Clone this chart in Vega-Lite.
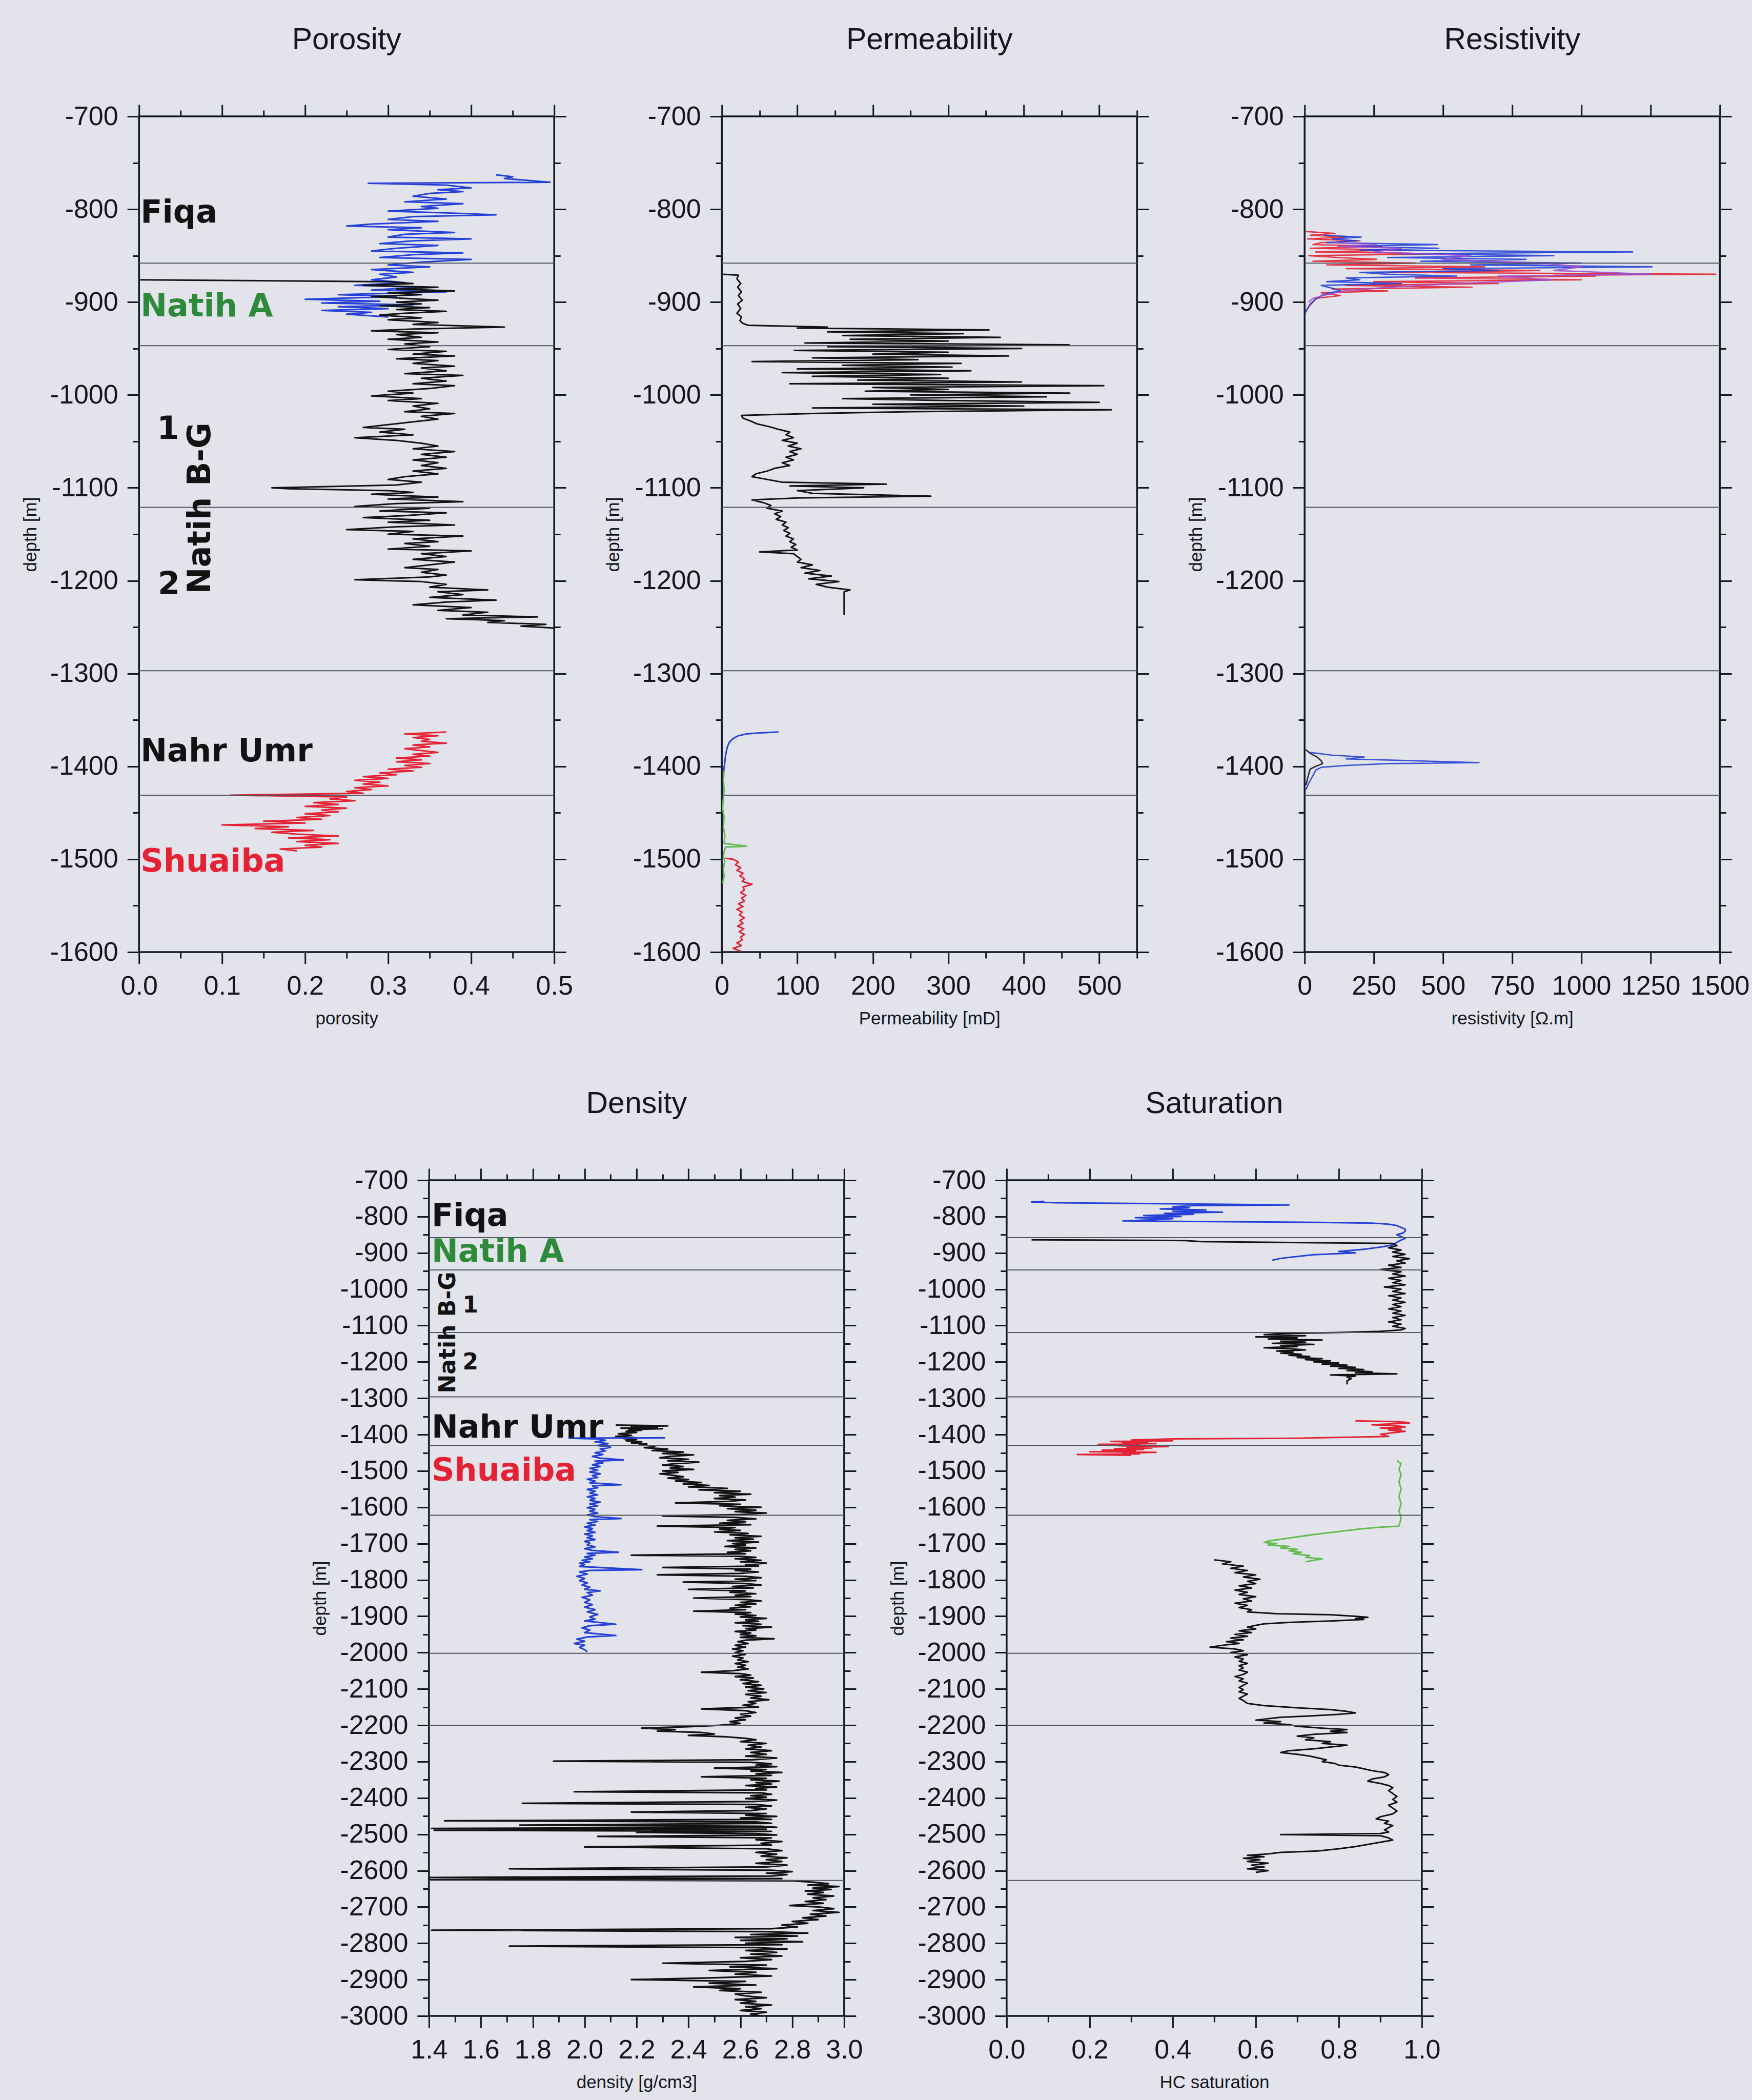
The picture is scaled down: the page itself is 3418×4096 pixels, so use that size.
{
"$schema": "https://vega.github.io/schema/vega-lite/v6.json",
"padding": {"left": 40, "top": 47, "right": 60, "bottom": 60},
"background": "#e2e3eb",
"datasets": {
"tops_top": [{"depth":-858},{"depth":-947},{"depth":-1121},{"depth":-1297},{"depth":-1431}],
"tops_bottom": [{"depth":-858},{"depth":-947},{"depth":-1119},{"depth":-1296},{"depth":-1430},{"depth":-1622},{"depth":-2002},{"depth":-2200},{"depth":-2627}],
"poro": [
{"curve":"blue","depth":-763,"value":0.43},{"curve":"blue","depth":-765,"value":0.45},{"curve":"blue","depth":-767,"value":0.44},{"curve":"blue","depth":-769,"value":0.47},{"curve":"blue","depth":-771,"value":0.495},{"curve":"blue","depth":-772,"value":0.276},{"curve":"blue","depth":-774,"value":0.37},{"curve":"blue","depth":-777,"value":0.40},{"curve":"blue","depth":-779,"value":0.36},{"curve":"blue","depth":-781,"value":0.39},{"curve":"blue","depth":-783,"value":0.35},{"curve":"blue","depth":-786,"value":0.33},{"curve":"blue","depth":-789,"value":0.37},{"curve":"blue","depth":-792,"value":0.32},{"curve":"blue","depth":-794,"value":0.39},{"curve":"blue","depth":-797,"value":0.34},{"curve":"blue","depth":-799,"value":0.36},{"curve":"blue","depth":-802,"value":0.30},{"curve":"blue","depth":-804,"value":0.37},{"curve":"blue","depth":-806,"value":0.43},{"curve":"blue","depth":-808,"value":0.33},{"curve":"blue","depth":-811,"value":0.30},{"curve":"blue","depth":-813,"value":0.36},{"curve":"blue","depth":-816,"value":0.28},{"curve":"blue","depth":-818,"value":0.25},{"curve":"blue","depth":-820,"value":0.34},{"curve":"blue","depth":-822,"value":0.30},{"curve":"blue","depth":-825,"value":0.38},{"curve":"blue","depth":-827,"value":0.32},{"curve":"blue","depth":-830,"value":0.30},{"curve":"blue","depth":-832,"value":0.40},{"curve":"blue","depth":-834,"value":0.33},{"curve":"blue","depth":-837,"value":0.29},{"curve":"blue","depth":-839,"value":0.36},{"curve":"blue","depth":-842,"value":0.31},{"curve":"blue","depth":-845,"value":0.28},{"curve":"blue","depth":-847,"value":0.39},{"curve":"blue","depth":-849,"value":0.33},{"curve":"blue","depth":-852,"value":0.29},{"curve":"blue","depth":-854,"value":0.40},{"curve":"blue","depth":-857,"value":0.34},{"curve":"blue","depth":-860,"value":0.30},{"curve":"blue","depth":-862,"value":0.35},{"curve":"blue","depth":-865,"value":0.28},{"curve":"blue","depth":-868,"value":0.33},{"curve":"blue","depth":-870,"value":0.29},{"curve":"blue","depth":-873,"value":0.31},{"curve":"blue","depth":-876,"value":0.28},{"curve":"blue","depth":-879,"value":0.32},{"curve":"blue","depth":-882,"value":0.26},{"curve":"blue","depth":-884,"value":0.34},{"curve":"blue","depth":-887,"value":0.28},{"curve":"blue","depth":-889,"value":0.37},{"curve":"blue","depth":-892,"value":0.24},{"curve":"blue","depth":-894,"value":0.31},{"curve":"blue","depth":-897,"value":0.20},{"curve":"blue","depth":-899,"value":0.29},{"curve":"blue","depth":-901,"value":0.22},{"curve":"blue","depth":-903,"value":0.33},{"curve":"blue","depth":-905,"value":0.24},{"curve":"blue","depth":-907,"value":0.30},{"curve":"blue","depth":-909,"value":0.22},{"curve":"blue","depth":-911,"value":0.28},{"curve":"blue","depth":-913,"value":0.25},{"curve":"blue","depth":-916,"value":0.30},
{"curve":"black","depth":-876,"value":0.0},{"curve":"black","depth":-878,"value":0.30},{"curve":"black","depth":-880,"value":0.33},{"curve":"black","depth":-882,"value":0.27},{"curve":"black","depth":-884,"value":0.36},{"curve":"black","depth":-886,"value":0.31},{"curve":"black","depth":-888,"value":0.38},{"curve":"black","depth":-890,"value":0.30},{"curve":"black","depth":-892,"value":0.34},{"curve":"black","depth":-894,"value":0.28},{"curve":"black","depth":-896,"value":0.32},{"curve":"black","depth":-898,"value":0.36},{"curve":"black","depth":-900,"value":0.31},{"curve":"black","depth":-902,"value":0.34},{"curve":"black","depth":-904,"value":0.29},{"curve":"black","depth":-906,"value":0.35},{"curve":"black","depth":-908,"value":0.31},{"curve":"black","depth":-910,"value":0.37},{"curve":"black","depth":-912,"value":0.32},{"curve":"black","depth":-914,"value":0.29},{"curve":"black","depth":-917,"value":0.34},{"curve":"black","depth":-919,"value":0.30},{"curve":"black","depth":-922,"value":0.36},{"curve":"black","depth":-924,"value":0.33},{"curve":"black","depth":-927,"value":0.44},{"curve":"black","depth":-929,"value":0.33},{"curve":"black","depth":-931,"value":0.28},{"curve":"black","depth":-933,"value":0.36},{"curve":"black","depth":-935,"value":0.31},{"curve":"black","depth":-938,"value":0.34},{"curve":"black","depth":-940,"value":0.30},{"curve":"black","depth":-943,"value":0.36},{"curve":"black","depth":-945,"value":0.32},{"curve":"black","depth":-948,"value":0.35},{"curve":"black","depth":-951,"value":0.30},{"curve":"black","depth":-953,"value":0.37},{"curve":"black","depth":-956,"value":0.33},{"curve":"black","depth":-958,"value":0.38},{"curve":"black","depth":-961,"value":0.31},{"curve":"black","depth":-963,"value":0.36},{"curve":"black","depth":-966,"value":0.33},{"curve":"black","depth":-969,"value":0.38},{"curve":"black","depth":-971,"value":0.34},{"curve":"black","depth":-974,"value":0.37},{"curve":"black","depth":-977,"value":0.32},{"curve":"black","depth":-979,"value":0.39},{"curve":"black","depth":-982,"value":0.34},{"curve":"black","depth":-985,"value":0.37},{"curve":"black","depth":-988,"value":0.33},{"curve":"black","depth":-990,"value":0.38},{"curve":"black","depth":-993,"value":0.35},{"curve":"black","depth":-996,"value":0.30},{"curve":"black","depth":-998,"value":0.33},{"curve":"black","depth":-1001,"value":0.28},{"curve":"black","depth":-1004,"value":0.34},{"curve":"black","depth":-1006,"value":0.30},{"curve":"black","depth":-1009,"value":0.36},{"curve":"black","depth":-1012,"value":0.33},{"curve":"black","depth":-1015,"value":0.35},{"curve":"black","depth":-1018,"value":0.32},{"curve":"black","depth":-1020,"value":0.38},{"curve":"black","depth":-1023,"value":0.34},{"curve":"black","depth":-1026,"value":0.36},{"curve":"black","depth":-1029,"value":0.33},{"curve":"black","depth":-1032,"value":0.30},{"curve":"black","depth":-1035,"value":0.27},{"curve":"black","depth":-1037,"value":0.32},{"curve":"black","depth":-1040,"value":0.29},{"curve":"black","depth":-1043,"value":0.33},{"curve":"black","depth":-1046,"value":0.26},{"curve":"black","depth":-1049,"value":0.31},{"curve":"black","depth":-1052,"value":0.34},{"curve":"black","depth":-1055,"value":0.36},{"curve":"black","depth":-1058,"value":0.33},{"curve":"black","depth":-1061,"value":0.38},{"curve":"black","depth":-1064,"value":0.34},{"curve":"black","depth":-1067,"value":0.37},{"curve":"black","depth":-1070,"value":0.33},{"curve":"black","depth":-1073,"value":0.36},{"curve":"black","depth":-1076,"value":0.34},{"curve":"black","depth":-1079,"value":0.37},{"curve":"black","depth":-1082,"value":0.33},{"curve":"black","depth":-1085,"value":0.36},{"curve":"black","depth":-1088,"value":0.32},{"curve":"black","depth":-1091,"value":0.30},{"curve":"black","depth":-1094,"value":0.34},{"curve":"black","depth":-1097,"value":0.31},{"curve":"black","depth":-1100,"value":0.16},{"curve":"black","depth":-1101,"value":0.18},{"curve":"black","depth":-1103,"value":0.30},{"curve":"black","depth":-1105,"value":0.33},{"curve":"black","depth":-1107,"value":0.28},{"curve":"black","depth":-1110,"value":0.36},{"curve":"black","depth":-1112,"value":0.30},{"curve":"black","depth":-1115,"value":0.39},{"curve":"black","depth":-1117,"value":0.31},{"curve":"black","depth":-1120,"value":0.26},{"curve":"black","depth":-1122,"value":0.35},{"curve":"black","depth":-1125,"value":0.29},{"curve":"black","depth":-1127,"value":0.37},{"curve":"black","depth":-1130,"value":0.32},{"curve":"black","depth":-1132,"value":0.27},{"curve":"black","depth":-1135,"value":0.35},{"curve":"black","depth":-1137,"value":0.30},{"curve":"black","depth":-1140,"value":0.38},{"curve":"black","depth":-1142,"value":0.31},{"curve":"black","depth":-1145,"value":0.25},{"curve":"black","depth":-1147,"value":0.33},{"curve":"black","depth":-1150,"value":0.30},{"curve":"black","depth":-1152,"value":0.39},{"curve":"black","depth":-1155,"value":0.33},{"curve":"black","depth":-1158,"value":0.36},{"curve":"black","depth":-1160,"value":0.32},{"curve":"black","depth":-1163,"value":0.35},{"curve":"black","depth":-1166,"value":0.30},{"curve":"black","depth":-1168,"value":0.40},{"curve":"black","depth":-1171,"value":0.34},{"curve":"black","depth":-1174,"value":0.37},{"curve":"black","depth":-1177,"value":0.33},{"curve":"black","depth":-1180,"value":0.38},{"curve":"black","depth":-1183,"value":0.35},{"curve":"black","depth":-1186,"value":0.32},{"curve":"black","depth":-1188,"value":0.36},{"curve":"black","depth":-1191,"value":0.34},{"curve":"black","depth":-1194,"value":0.37},{"curve":"black","depth":-1196,"value":0.35},{"curve":"black","depth":-1199,"value":0.26},{"curve":"black","depth":-1201,"value":0.34},{"curve":"black","depth":-1204,"value":0.37},{"curve":"black","depth":-1207,"value":0.35},{"curve":"black","depth":-1210,"value":0.42},{"curve":"black","depth":-1212,"value":0.36},{"curve":"black","depth":-1215,"value":0.39},{"curve":"black","depth":-1218,"value":0.35},{"curve":"black","depth":-1221,"value":0.43},{"curve":"black","depth":-1223,"value":0.37},{"curve":"black","depth":-1226,"value":0.33},{"curve":"black","depth":-1229,"value":0.40},{"curve":"black","depth":-1232,"value":0.36},{"curve":"black","depth":-1234,"value":0.42},{"curve":"black","depth":-1237,"value":0.39},{"curve":"black","depth":-1239,"value":0.48},{"curve":"black","depth":-1241,"value":0.37},{"curve":"black","depth":-1243,"value":0.44},{"curve":"black","depth":-1245,"value":0.42},{"curve":"black","depth":-1247,"value":0.49},{"curve":"black","depth":-1249,"value":0.46},{"curve":"black","depth":-1251,"value":0.50},
{"curve":"red","depth":-1363,"value":0.37},{"curve":"red","depth":-1365,"value":0.32},{"curve":"red","depth":-1367,"value":0.36},{"curve":"red","depth":-1369,"value":0.33},{"curve":"red","depth":-1371,"value":0.35},{"curve":"red","depth":-1373,"value":0.34},{"curve":"red","depth":-1375,"value":0.37},{"curve":"red","depth":-1377,"value":0.33},{"curve":"red","depth":-1379,"value":0.35},{"curve":"red","depth":-1381,"value":0.32},{"curve":"red","depth":-1383,"value":0.34},{"curve":"red","depth":-1385,"value":0.36},{"curve":"red","depth":-1387,"value":0.33},{"curve":"red","depth":-1389,"value":0.35},{"curve":"red","depth":-1391,"value":0.31},{"curve":"red","depth":-1393,"value":0.34},{"curve":"red","depth":-1395,"value":0.31},{"curve":"red","depth":-1397,"value":0.35},{"curve":"red","depth":-1399,"value":0.32},{"curve":"red","depth":-1401,"value":0.34},{"curve":"red","depth":-1403,"value":0.30},{"curve":"red","depth":-1405,"value":0.33},{"curve":"red","depth":-1407,"value":0.29},{"curve":"red","depth":-1409,"value":0.31},{"curve":"red","depth":-1411,"value":0.27},{"curve":"red","depth":-1413,"value":0.30},{"curve":"red","depth":-1415,"value":0.26},{"curve":"red","depth":-1417,"value":0.29},{"curve":"red","depth":-1419,"value":0.27},{"curve":"red","depth":-1421,"value":0.30},{"curve":"red","depth":-1423,"value":0.26},{"curve":"red","depth":-1425,"value":0.28},{"curve":"red","depth":-1427,"value":0.25},{"curve":"red","depth":-1429,"value":0.27},{"curve":"red","depth":-1431,"value":0.11},{"curve":"red","depth":-1433,"value":0.25},{"curve":"red","depth":-1435,"value":0.23},{"curve":"red","depth":-1437,"value":0.26},{"curve":"red","depth":-1439,"value":0.21},{"curve":"red","depth":-1441,"value":0.24},{"curve":"red","depth":-1443,"value":0.20},{"curve":"red","depth":-1445,"value":0.25},{"curve":"red","depth":-1447,"value":0.22},{"curve":"red","depth":-1449,"value":0.24},{"curve":"red","depth":-1451,"value":0.20},{"curve":"red","depth":-1453,"value":0.23},{"curve":"red","depth":-1455,"value":0.19},{"curve":"red","depth":-1457,"value":0.22},{"curve":"red","depth":-1459,"value":0.15},{"curve":"red","depth":-1461,"value":0.20},{"curve":"red","depth":-1463,"value":0.10},{"curve":"red","depth":-1465,"value":0.18},{"curve":"red","depth":-1467,"value":0.14},{"curve":"red","depth":-1469,"value":0.21},{"curve":"red","depth":-1471,"value":0.16},{"curve":"red","depth":-1473,"value":0.19},{"curve":"red","depth":-1475,"value":0.24},{"curve":"red","depth":-1477,"value":0.18},{"curve":"red","depth":-1479,"value":0.23},{"curve":"red","depth":-1481,"value":0.19},{"curve":"red","depth":-1483,"value":0.24},{"curve":"red","depth":-1485,"value":0.20},{"curve":"red","depth":-1487,"value":0.22},{"curve":"red","depth":-1489,"value":0.17},{"curve":"red","depth":-1491,"value":0.19}
],
"perm": [
{"curve":"black","depth":-870,"value":2},{"curve":"black","depth":-871,"value":22},{"curve":"black","depth":-875,"value":20},{"curve":"black","depth":-880,"value":25},{"curve":"black","depth":-884,"value":21},{"curve":"black","depth":-889,"value":26},{"curve":"black","depth":-893,"value":22},{"curve":"black","depth":-898,"value":27},{"curve":"black","depth":-902,"value":21},{"curve":"black","depth":-907,"value":25},{"curve":"black","depth":-912,"value":20},{"curve":"black","depth":-916,"value":26},{"curve":"black","depth":-920,"value":24},{"curve":"black","depth":-923,"value":28},{"curve":"black","depth":-925,"value":35},{"curve":"black","depth":-927,"value":140},{"curve":"black","depth":-928,"value":100},{"curve":"black","depth":-930,"value":354},{"curve":"black","depth":-932,"value":140},{"curve":"black","depth":-934,"value":320},{"curve":"black","depth":-936,"value":160},{"curve":"black","depth":-938,"value":369},{"curve":"black","depth":-940,"value":170},{"curve":"black","depth":-942,"value":300},{"curve":"black","depth":-944,"value":110},{"curve":"black","depth":-946,"value":460},{"curve":"black","depth":-948,"value":140},{"curve":"black","depth":-950,"value":397},{"curve":"black","depth":-952,"value":96},{"curve":"black","depth":-954,"value":300},{"curve":"black","depth":-956,"value":200},{"curve":"black","depth":-958,"value":380},{"curve":"black","depth":-960,"value":120},{"curve":"black","depth":-962,"value":260},{"curve":"black","depth":-964,"value":40},{"curve":"black","depth":-966,"value":317},{"curve":"black","depth":-968,"value":160},{"curve":"black","depth":-970,"value":305},{"curve":"black","depth":-972,"value":100},{"curve":"black","depth":-974,"value":330},{"curve":"black","depth":-976,"value":80},{"curve":"black","depth":-978,"value":290},{"curve":"black","depth":-980,"value":120},{"curve":"black","depth":-982,"value":300},{"curve":"black","depth":-984,"value":180},{"curve":"black","depth":-986,"value":397},{"curve":"black","depth":-988,"value":90},{"curve":"black","depth":-990,"value":506},{"curve":"black","depth":-992,"value":200},{"curve":"black","depth":-994,"value":300},{"curve":"black","depth":-996,"value":190},{"curve":"black","depth":-998,"value":461},{"curve":"black","depth":-1000,"value":250},{"curve":"black","depth":-1002,"value":430},{"curve":"black","depth":-1004,"value":160},{"curve":"black","depth":-1006,"value":300},{"curve":"black","depth":-1008,"value":500},{"curve":"black","depth":-1010,"value":200},{"curve":"black","depth":-1012,"value":400},{"curve":"black","depth":-1014,"value":120},{"curve":"black","depth":-1016,"value":516},{"curve":"black","depth":-1018,"value":250},{"curve":"black","depth":-1020,"value":120},{"curve":"black","depth":-1022,"value":26},{"curve":"black","depth":-1025,"value":28},{"curve":"black","depth":-1028,"value":38},{"curve":"black","depth":-1031,"value":46},{"curve":"black","depth":-1034,"value":62},{"curve":"black","depth":-1037,"value":75},{"curve":"black","depth":-1040,"value":90},{"curve":"black","depth":-1043,"value":85},{"curve":"black","depth":-1046,"value":95},{"curve":"black","depth":-1049,"value":80},{"curve":"black","depth":-1052,"value":100},{"curve":"black","depth":-1055,"value":88},{"curve":"black","depth":-1058,"value":105},{"curve":"black","depth":-1061,"value":90},{"curve":"black","depth":-1064,"value":100},{"curve":"black","depth":-1067,"value":85},{"curve":"black","depth":-1070,"value":95},{"curve":"black","depth":-1073,"value":80},{"curve":"black","depth":-1076,"value":90},{"curve":"black","depth":-1079,"value":70},{"curve":"black","depth":-1082,"value":60},{"curve":"black","depth":-1085,"value":45},{"curve":"black","depth":-1088,"value":40},{"curve":"black","depth":-1091,"value":60},{"curve":"black","depth":-1094,"value":80},{"curve":"black","depth":-1096,"value":218},{"curve":"black","depth":-1098,"value":90},{"curve":"black","depth":-1100,"value":188},{"curve":"black","depth":-1103,"value":100},{"curve":"black","depth":-1106,"value":120},{"curve":"black","depth":-1109,"value":277},{"curve":"black","depth":-1111,"value":100},{"curve":"black","depth":-1113,"value":40},{"curve":"black","depth":-1116,"value":55},{"curve":"black","depth":-1119,"value":65},{"curve":"black","depth":-1122,"value":60},{"curve":"black","depth":-1125,"value":80},{"curve":"black","depth":-1128,"value":70},{"curve":"black","depth":-1131,"value":78},{"curve":"black","depth":-1134,"value":72},{"curve":"black","depth":-1137,"value":85},{"curve":"black","depth":-1140,"value":80},{"curve":"black","depth":-1143,"value":88},{"curve":"black","depth":-1146,"value":82},{"curve":"black","depth":-1149,"value":90},{"curve":"black","depth":-1152,"value":85},{"curve":"black","depth":-1155,"value":95},{"curve":"black","depth":-1158,"value":90},{"curve":"black","depth":-1161,"value":98},{"curve":"black","depth":-1164,"value":92},{"curve":"black","depth":-1167,"value":100},{"curve":"black","depth":-1169,"value":50},{"curve":"black","depth":-1171,"value":95},{"curve":"black","depth":-1174,"value":100},{"curve":"black","depth":-1177,"value":105},{"curve":"black","depth":-1180,"value":100},{"curve":"black","depth":-1183,"value":120},{"curve":"black","depth":-1186,"value":105},{"curve":"black","depth":-1189,"value":130},{"curve":"black","depth":-1192,"value":110},{"curve":"black","depth":-1195,"value":145},{"curve":"black","depth":-1198,"value":115},{"curve":"black","depth":-1201,"value":155},{"curve":"black","depth":-1204,"value":125},{"curve":"black","depth":-1207,"value":140},{"curve":"black","depth":-1210,"value":170},{"curve":"black","depth":-1212,"value":162},{"curve":"black","depth":-1237,"value":162},
{"curve":"blue","depth":-1363,"value":75},{"curve":"blue","depth":-1364,"value":50},{"curve":"blue","depth":-1365,"value":33},{"curve":"blue","depth":-1367,"value":22},{"curve":"blue","depth":-1370,"value":15},{"curve":"blue","depth":-1374,"value":10},{"curve":"blue","depth":-1380,"value":7},{"curve":"blue","depth":-1388,"value":5},{"curve":"blue","depth":-1395,"value":4},{"curve":"blue","depth":-1402,"value":3},{"curve":"blue","depth":-1408,"value":2},
{"curve":"green","depth":-1405,"value":3},{"curve":"green","depth":-1415,"value":2},{"curve":"green","depth":-1425,"value":3},{"curve":"green","depth":-1435,"value":2},{"curve":"green","depth":-1445,"value":1},{"curve":"green","depth":-1455,"value":3},{"curve":"green","depth":-1465,"value":2},{"curve":"green","depth":-1475,"value":4},{"curve":"green","depth":-1483,"value":3},{"curve":"green","depth":-1486,"value":33},{"curve":"green","depth":-1487,"value":5},{"curve":"green","depth":-1492,"value":3},{"curve":"green","depth":-1497,"value":2},{"curve":"green","depth":-1502,"value":4},{"curve":"green","depth":-1510,"value":2},{"curve":"green","depth":-1518,"value":3},{"curve":"green","depth":-1526,"value":1},
{"curve":"red","depth":-1499,"value":5},{"curve":"red","depth":-1500,"value":15},{"curve":"red","depth":-1503,"value":22},{"curve":"red","depth":-1506,"value":18},{"curve":"red","depth":-1509,"value":25},{"curve":"red","depth":-1512,"value":20},{"curve":"red","depth":-1515,"value":28},{"curve":"red","depth":-1518,"value":24},{"curve":"red","depth":-1521,"value":30},{"curve":"red","depth":-1524,"value":27},{"curve":"red","depth":-1527,"value":40},{"curve":"red","depth":-1530,"value":28},{"curve":"red","depth":-1533,"value":30},{"curve":"red","depth":-1536,"value":25},{"curve":"red","depth":-1539,"value":32},{"curve":"red","depth":-1542,"value":26},{"curve":"red","depth":-1545,"value":30},{"curve":"red","depth":-1548,"value":22},{"curve":"red","depth":-1551,"value":28},{"curve":"red","depth":-1554,"value":20},{"curve":"red","depth":-1557,"value":27},{"curve":"red","depth":-1560,"value":23},{"curve":"red","depth":-1563,"value":30},{"curve":"red","depth":-1566,"value":24},{"curve":"red","depth":-1569,"value":28},{"curve":"red","depth":-1572,"value":21},{"curve":"red","depth":-1575,"value":29},{"curve":"red","depth":-1578,"value":23},{"curve":"red","depth":-1581,"value":30},{"curve":"red","depth":-1584,"value":25},{"curve":"red","depth":-1587,"value":27},{"curve":"red","depth":-1590,"value":20},{"curve":"red","depth":-1593,"value":26},{"curve":"red","depth":-1596,"value":15},{"curve":"red","depth":-1599,"value":25}
],
"resist": [
{"curve":"red","depth":-824,"value":5},{"curve":"red","depth":-826,"value":110},{"curve":"red","depth":-828,"value":20},{"curve":"red","depth":-830,"value":150},{"curve":"red","depth":-832,"value":10},{"curve":"red","depth":-834,"value":200},{"curve":"red","depth":-836,"value":60},{"curve":"red","depth":-838,"value":30},{"curve":"red","depth":-840,"value":280},{"curve":"red","depth":-842,"value":20},{"curve":"red","depth":-844,"value":350},{"curve":"red","depth":-846,"value":40},{"curve":"red","depth":-848,"value":500},{"curve":"red","depth":-850,"value":15},{"curve":"red","depth":-852,"value":120},{"curve":"red","depth":-854,"value":260},{"curve":"red","depth":-856,"value":30},{"curve":"red","depth":-858,"value":400},{"curve":"red","depth":-860,"value":80},{"curve":"red","depth":-862,"value":650},{"curve":"red","depth":-864,"value":150},{"curve":"red","depth":-866,"value":850},{"curve":"red","depth":-868,"value":300},{"curve":"red","depth":-870,"value":1485},{"curve":"red","depth":-871,"value":900},{"curve":"red","depth":-872,"value":1050},{"curve":"red","depth":-874,"value":400},{"curve":"red","depth":-876,"value":1000},{"curve":"red","depth":-878,"value":250},{"curve":"red","depth":-880,"value":700},{"curve":"red","depth":-882,"value":150},{"curve":"red","depth":-884,"value":605},{"curve":"red","depth":-886,"value":100},{"curve":"red","depth":-888,"value":300},{"curve":"red","depth":-890,"value":60},{"curve":"red","depth":-893,"value":130},{"curve":"red","depth":-896,"value":40},{"curve":"red","depth":-900,"value":30},{"curve":"red","depth":-905,"value":15},{"curve":"red","depth":-910,"value":5},
{"curve":"blue","depth":-828,"value":70},{"curve":"blue","depth":-830,"value":205},{"curve":"blue","depth":-832,"value":100},{"curve":"blue","depth":-834,"value":190},{"curve":"blue","depth":-836,"value":80},{"curve":"blue","depth":-838,"value":480},{"curve":"blue","depth":-840,"value":150},{"curve":"blue","depth":-842,"value":485},{"curve":"blue","depth":-844,"value":200},{"curve":"blue","depth":-846,"value":1185},{"curve":"blue","depth":-848,"value":350},{"curve":"blue","depth":-850,"value":900},{"curve":"blue","depth":-852,"value":300},{"curve":"blue","depth":-854,"value":800},{"curve":"blue","depth":-856,"value":420},{"curve":"blue","depth":-858,"value":1000},{"curve":"blue","depth":-860,"value":600},{"curve":"blue","depth":-862,"value":1255},{"curve":"blue","depth":-864,"value":500},{"curve":"blue","depth":-866,"value":700},{"curve":"blue","depth":-868,"value":200},{"curve":"blue","depth":-870,"value":300},{"curve":"blue","depth":-872,"value":550},{"curve":"blue","depth":-874,"value":150},{"curve":"blue","depth":-876,"value":200},{"curve":"blue","depth":-878,"value":80},{"curve":"blue","depth":-880,"value":350},{"curve":"blue","depth":-882,"value":60},{"curve":"blue","depth":-886,"value":110},{"curve":"blue","depth":-888,"value":130},{"curve":"blue","depth":-890,"value":90},{"curve":"blue","depth":-893,"value":60},{"curve":"blue","depth":-897,"value":40},{"curve":"blue","depth":-902,"value":20},{"curve":"blue","depth":-908,"value":8},{"curve":"blue","depth":-912,"value":2},
{"curve":"purple","depth":-836,"value":100},{"curve":"purple","depth":-838,"value":260},{"curve":"purple","depth":-840,"value":120},{"curve":"purple","depth":-842,"value":350},{"curve":"purple","depth":-846,"value":250},{"curve":"purple","depth":-850,"value":600},{"curve":"purple","depth":-854,"value":500},{"curve":"purple","depth":-858,"value":850},{"curve":"purple","depth":-862,"value":1000},{"curve":"purple","depth":-866,"value":900},{"curve":"purple","depth":-870,"value":1250},{"curve":"purple","depth":-872,"value":700},{"curve":"purple","depth":-876,"value":900},{"curve":"purple","depth":-880,"value":550},{"curve":"purple","depth":-884,"value":300},{"curve":"purple","depth":-888,"value":140},{"curve":"purple","depth":-892,"value":80},{"curve":"purple","depth":-896,"value":30},{"curve":"purple","depth":-900,"value":15},
{"curve":"black2","depth":-1382,"value":5},{"curve":"black2","depth":-1386,"value":20},{"curve":"black2","depth":-1390,"value":45},{"curve":"black2","depth":-1394,"value":60},{"curve":"black2","depth":-1397,"value":65},{"curve":"black2","depth":-1400,"value":40},{"curve":"black2","depth":-1403,"value":20},{"curve":"black2","depth":-1408,"value":15},{"curve":"black2","depth":-1414,"value":10},{"curve":"black2","depth":-1420,"value":5},
{"curve":"blue2","depth":-1385,"value":20},{"curve":"blue2","depth":-1388,"value":100},{"curve":"blue2","depth":-1390,"value":215},{"curve":"blue2","depth":-1392,"value":150},{"curve":"blue2","depth":-1394,"value":400},{"curve":"blue2","depth":-1396,"value":630},{"curve":"blue2","depth":-1397,"value":300},{"curve":"blue2","depth":-1399,"value":150},{"curve":"blue2","depth":-1401,"value":60},{"curve":"blue2","depth":-1404,"value":40},{"curve":"blue2","depth":-1410,"value":30},{"curve":"blue2","depth":-1418,"value":15},{"curve":"blue2","depth":-1425,"value":5}
],
"dens": [
{"curve":"black","depth":-1374,"value":2.12},{"curve":"black","depth":-1376,"value":2.32},{"curve":"black","depth":-1378,"value":2.18},{"curve":"black","depth":-1380,"value":2.28},{"curve":"black","depth":-1382,"value":2.14},{"curve":"black","depth":-1384,"value":2.30},{"curve":"black","depth":-1386,"value":2.17},{"curve":"black","depth":-1388,"value":2.22},{"curve":"black","depth":-1391,"value":2.16},{"curve":"black","depth":-1394,"value":2.20},{"curve":"black","depth":-1398,"value":2.13},{"curve":"black","depth":-1402,"value":2.18},{"curve":"black","depth":-1405,"value":2.12},{"curve":"black","depth":-1408,"value":2.19},{"curve":"black","depth":-1411,"value":2.15},{"curve":"black","depth":-1414,"value":2.20},{"curve":"black","depth":-1417,"value":2.16},{"curve":"black","depth":-1420,"value":2.22},{"curve":"black","depth":-1423,"value":2.18},{"curve":"black","depth":-1426,"value":2.24},{"curve":"black","depth":-1429,"value":2.21},{"curve":"black","depth":-1432,"value":2.27},{"curve":"black","depth":-1436,"value":2.23},{"curve":"black","depth":-1440,"value":2.32},{"curve":"black","depth":-1444,"value":2.26},{"curve":"black","depth":-1448,"value":2.38},{"curve":"black","depth":-1452,"value":2.30},{"curve":"black","depth":-1456,"value":2.42},{"curve":"black","depth":-1460,"value":2.33},{"curve":"black","depth":-1464,"value":2.29},{"curve":"black","depth":-1468,"value":2.40},{"curve":"black","depth":-1472,"value":2.32},{"curve":"black","depth":-1476,"value":2.44},{"curve":"black","depth":-1480,"value":2.35},{"curve":"black","depth":-1484,"value":2.30},{"curve":"black","depth":-1488,"value":2.38},{"curve":"black","depth":-1492,"value":2.33},{"curve":"black","depth":-1496,"value":2.42},{"curve":"black","depth":-1500,"value":2.30},{"curve":"black","depth":-1504,"value":2.36},{"curve":"black","depth":-1508,"value":2.29},{"curve":"black","depth":-1512,"value":2.34},{"curve":"black","depth":-1516,"value":2.38},{"curve":"black","depth":-1520,"value":2.32},{"curve":"black","depth":-1524,"value":2.40},{"curve":"black","depth":-1528,"value":2.35},{"curve":"black","depth":-1532,"value":2.45},{"curve":"black","depth":-1536,"value":2.38},{"curve":"black","depth":-1540,"value":2.48},{"curve":"black","depth":-1544,"value":2.40},{"curve":"black","depth":-1548,"value":2.55},{"curve":"black","depth":-1552,"value":2.44},{"curve":"black","depth":-1556,"value":2.60},{"curve":"black","depth":-1560,"value":2.50},{"curve":"black","depth":-1564,"value":2.64},{"curve":"black","depth":-1568,"value":2.52},{"curve":"black","depth":-1572,"value":2.58},{"curve":"black","depth":-1576,"value":2.50},{"curve":"black","depth":-1580,"value":2.62},{"curve":"black","depth":-1584,"value":2.55},{"curve":"black","depth":-1588,"value":2.35},{"curve":"black","depth":-1592,"value":2.60},{"curve":"black","depth":-1596,"value":2.52},{"curve":"black","depth":-1600,"value":2.68},{"curve":"black","depth":-1604,"value":2.55},{"curve":"black","depth":-1608,"value":2.66},{"curve":"black","depth":-1612,"value":2.58},{"curve":"black","depth":-1616,"value":2.70},{"curve":"black","depth":-1620,"value":2.60},{"curve":"black","depth":-1624,"value":2.30},{"curve":"black","depth":-1628,"value":2.58},{"curve":"black","depth":-1632,"value":2.66},{"curve":"black","depth":-1636,"value":2.55},{"curve":"black","depth":-1640,"value":2.62},{"curve":"black","depth":-1644,"value":2.52},{"curve":"black","depth":-1648,"value":2.64},{"curve":"black","depth":-1652,"value":2.28},{"curve":"black","depth":-1656,"value":2.58},{"curve":"black","depth":-1660,"value":2.52},{"curve":"black","depth":-1664,"value":2.60},{"curve":"black","depth":-1668,"value":2.50},{"curve":"black","depth":-1672,"value":2.63},{"curve":"black","depth":-1676,"value":2.56},{"curve":"black","depth":-1680,"value":2.68},{"curve":"black","depth":-1684,"value":2.58},{"curve":"black","depth":-1688,"value":2.65},{"curve":"black","depth":-1692,"value":2.55},{"curve":"black","depth":-1696,"value":2.67},{"curve":"black","depth":-1700,"value":2.57},{"curve":"black","depth":-1704,"value":2.62},{"curve":"black","depth":-1708,"value":2.54},{"curve":"black","depth":-1712,"value":2.66},{"curve":"black","depth":-1716,"value":2.58},{"curve":"black","depth":-1720,"value":2.64},{"curve":"black","depth":-1724,"value":2.55},{"curve":"black","depth":-1728,"value":2.62},{"curve":"black","depth":-1732,"value":2.18},{"curve":"black","depth":-1735,"value":2.60},{"curve":"black","depth":-1738,"value":2.66},{"curve":"black","depth":-1742,"value":2.58},{"curve":"black","depth":-1746,"value":2.68},{"curve":"black","depth":-1750,"value":2.60},{"curve":"black","depth":-1754,"value":2.70},{"curve":"black","depth":-1758,"value":2.62},{"curve":"black","depth":-1762,"value":2.67},{"curve":"black","depth":-1766,"value":2.30},{"curve":"black","depth":-1770,"value":2.64},{"curve":"black","depth":-1774,"value":2.58},{"curve":"black","depth":-1778,"value":2.67},{"curve":"black","depth":-1782,"value":2.60},{"curve":"black","depth":-1786,"value":2.28},{"curve":"black","depth":-1790,"value":2.62},{"curve":"black","depth":-1794,"value":2.68},{"curve":"black","depth":-1798,"value":2.58},{"curve":"black","depth":-1802,"value":2.66},{"curve":"black","depth":-1806,"value":2.38},{"curve":"black","depth":-1810,"value":2.62},{"curve":"black","depth":-1814,"value":2.68},{"curve":"black","depth":-1818,"value":2.57},{"curve":"black","depth":-1822,"value":2.65},{"curve":"black","depth":-1826,"value":2.40},{"curve":"black","depth":-1830,"value":2.62},{"curve":"black","depth":-1834,"value":2.56},{"curve":"black","depth":-1838,"value":2.66},{"curve":"black","depth":-1842,"value":2.58},{"curve":"black","depth":-1846,"value":2.64},{"curve":"black","depth":-1850,"value":2.42},{"curve":"black","depth":-1854,"value":2.62},{"curve":"black","depth":-1858,"value":2.68},{"curve":"black","depth":-1862,"value":2.60},{"curve":"black","depth":-1866,"value":2.66},{"curve":"black","depth":-1870,"value":2.58},{"curve":"black","depth":-1874,"value":2.64},{"curve":"black","depth":-1878,"value":2.56},{"curve":"black","depth":-1882,"value":2.62},{"curve":"black","depth":-1886,"value":2.42},{"curve":"black","depth":-1890,"value":2.64},{"curve":"black","depth":-1894,"value":2.58},{"curve":"black","depth":-1898,"value":2.66},{"curve":"black","depth":-1902,"value":2.60},{"curve":"black","depth":-1906,"value":2.70},{"curve":"black","depth":-1910,"value":2.62},{"curve":"black","depth":-1914,"value":2.67},{"curve":"black","depth":-1918,"value":2.58},{"curve":"black","depth":-1922,"value":2.68},{"curve":"black","depth":-1926,"value":2.61},{"curve":"black","depth":-1930,"value":2.72},{"curve":"black","depth":-1934,"value":2.62},{"curve":"black","depth":-1938,"value":2.66},{"curve":"black","depth":-1942,"value":2.58},{"curve":"black","depth":-1946,"value":2.64},{"curve":"black","depth":-1950,"value":2.60},{"curve":"black","depth":-1954,"value":2.66},{"curve":"black","depth":-1958,"value":2.60},{"curve":"black","depth":-1962,"value":2.73},{"curve":"black","depth":-1966,"value":2.62},{"curve":"black","depth":-1970,"value":2.59},{"curve":"black","depth":-1975,"value":2.63},{"curve":"black","depth":-1980,"value":2.58},{"curve":"black","depth":-1985,"value":2.62},{"curve":"black","depth":-1990,"value":2.57},{"curve":"black","depth":-1995,"value":2.61},{"curve":"black","depth":-2000,"value":2.58},{"curve":"black","depth":-2005,"value":2.62},{"curve":"black","depth":-2010,"value":2.57},{"curve":"black","depth":-2015,"value":2.61},{"curve":"black","depth":-2020,"value":2.59},{"curve":"black","depth":-2025,"value":2.63},{"curve":"black","depth":-2030,"value":2.58},{"curve":"black","depth":-2035,"value":2.62},{"curve":"black","depth":-2040,"value":2.59},{"curve":"black","depth":-2045,"value":2.63},{"curve":"black","depth":-2050,"value":2.57},{"curve":"black","depth":-2054,"value":2.45},{"curve":"black","depth":-2058,"value":2.60},{"curve":"black","depth":-2062,"value":2.64},{"curve":"black","depth":-2066,"value":2.58},{"curve":"black","depth":-2070,"value":2.65},{"curve":"black","depth":-2075,"value":2.60},{"curve":"black","depth":-2080,"value":2.67},{"curve":"black","depth":-2085,"value":2.61},{"curve":"black","depth":-2090,"value":2.68},{"curve":"black","depth":-2095,"value":2.62},{"curve":"black","depth":-2100,"value":2.69},{"curve":"black","depth":-2105,"value":2.63},{"curve":"black","depth":-2110,"value":2.70},{"curve":"black","depth":-2115,"value":2.62},{"curve":"black","depth":-2120,"value":2.68},{"curve":"black","depth":-2125,"value":2.64},{"curve":"black","depth":-2130,"value":2.71},{"curve":"black","depth":-2135,"value":2.63},{"curve":"black","depth":-2140,"value":2.66},{"curve":"black","depth":-2145,"value":2.61},{"curve":"black","depth":-2150,"value":2.67},{"curve":"black","depth":-2155,"value":2.45},{"curve":"black","depth":-2160,"value":2.62},{"curve":"black","depth":-2165,"value":2.66},{"curve":"black","depth":-2170,"value":2.60},{"curve":"black","depth":-2175,"value":2.64},{"curve":"black","depth":-2180,"value":2.58},{"curve":"black","depth":-2185,"value":2.62},{"curve":"black","depth":-2190,"value":2.56},{"curve":"black","depth":-2195,"value":2.60},{"curve":"black","depth":-2200,"value":2.52},{"curve":"black","depth":-2204,"value":2.40},{"curve":"black","depth":-2208,"value":2.22},{"curve":"black","depth":-2212,"value":2.35},{"curve":"black","depth":-2216,"value":2.28},{"curve":"black","depth":-2220,"value":2.45},{"curve":"black","depth":-2224,"value":2.50},{"curve":"black","depth":-2228,"value":2.40},{"curve":"black","depth":-2232,"value":2.55},{"curve":"black","depth":-2236,"value":2.62},{"curve":"black","depth":-2240,"value":2.66},{"curve":"black","depth":-2245,"value":2.60},{"curve":"black","depth":-2250,"value":2.70},{"curve":"black","depth":-2255,"value":2.63},{"curve":"black","depth":-2260,"value":2.68},{"curve":"black","depth":-2265,"value":2.62},{"curve":"black","depth":-2270,"value":2.72},{"curve":"black","depth":-2275,"value":2.64},{"curve":"black","depth":-2280,"value":2.70},{"curve":"black","depth":-2285,"value":2.62},{"curve":"black","depth":-2290,"value":2.74},{"curve":"black","depth":-2295,"value":2.65},{"curve":"black","depth":-2299,"value":1.88},{"curve":"black","depth":-2302,"value":2.64},{"curve":"black","depth":-2306,"value":2.72},{"curve":"black","depth":-2310,"value":2.66},{"curve":"black","depth":-2314,"value":2.74},{"curve":"black","depth":-2318,"value":2.50},{"curve":"black","depth":-2322,"value":2.70},{"curve":"black","depth":-2326,"value":2.64},{"curve":"black","depth":-2330,"value":2.76},{"curve":"black","depth":-2334,"value":2.66},{"curve":"black","depth":-2338,"value":2.72},{"curve":"black","depth":-2342,"value":2.45},{"curve":"black","depth":-2346,"value":2.70},{"curve":"black","depth":-2350,"value":2.64},{"curve":"black","depth":-2354,"value":2.75},{"curve":"black","depth":-2358,"value":2.66},{"curve":"black","depth":-2362,"value":2.72},{"curve":"black","depth":-2366,"value":2.62},{"curve":"black","depth":-2370,"value":2.74},{"curve":"black","depth":-2374,"value":2.66},{"curve":"black","depth":-2378,"value":2.70},{"curve":"black","depth":-2383,"value":1.96},{"curve":"black","depth":-2386,"value":2.68},{"curve":"black","depth":-2390,"value":2.72},{"curve":"black","depth":-2394,"value":2.64},{"curve":"black","depth":-2398,"value":2.70},{"curve":"black","depth":-2402,"value":2.62},{"curve":"black","depth":-2406,"value":2.74},{"curve":"black","depth":-2410,"value":2.65},{"curve":"black","depth":-2415,"value":1.76},{"curve":"black","depth":-2418,"value":2.66},{"curve":"black","depth":-2422,"value":2.72},{"curve":"black","depth":-2426,"value":2.62},{"curve":"black","depth":-2430,"value":2.70},{"curve":"black","depth":-2435,"value":2.64},{"curve":"black","depth":-2439,"value":2.18},{"curve":"black","depth":-2443,"value":2.70},{"curve":"black","depth":-2447,"value":2.62},{"curve":"black","depth":-2451,"value":2.74},{"curve":"black","depth":-2455,"value":2.60},{"curve":"black","depth":-2459,"value":2.72},{"curve":"black","depth":-2463,"value":1.46},{"curve":"black","depth":-2466,"value":2.66},{"curve":"black","depth":-2470,"value":2.72},{"curve":"black","depth":-2475,"value":1.75},{"curve":"black","depth":-2478,"value":2.68},{"curve":"black","depth":-2481,"value":2.74},{"curve":"black","depth":-2484,"value":1.41},{"curve":"black","depth":-2486,"value":2.70},{"curve":"black","depth":-2489,"value":1.42},{"curve":"black","depth":-2492,"value":2.72},{"curve":"black","depth":-2495,"value":2.20},{"curve":"black","depth":-2498,"value":2.66},{"curve":"black","depth":-2502,"value":2.74},{"curve":"black","depth":-2506,"value":2.05},{"curve":"black","depth":-2510,"value":2.72},{"curve":"black","depth":-2515,"value":2.66},{"curve":"black","depth":-2520,"value":2.76},{"curve":"black","depth":-2525,"value":2.68},{"curve":"black","depth":-2530,"value":2.72},{"curve":"black","depth":-2535,"value":2.00},{"curve":"black","depth":-2540,"value":2.70},{"curve":"black","depth":-2545,"value":2.76},{"curve":"black","depth":-2550,"value":2.66},{"curve":"black","depth":-2555,"value":2.74},{"curve":"black","depth":-2560,"value":2.68},{"curve":"black","depth":-2565,"value":2.78},{"curve":"black","depth":-2570,"value":2.70},{"curve":"black","depth":-2575,"value":2.76},{"curve":"black","depth":-2580,"value":2.66},{"curve":"black","depth":-2585,"value":2.78},{"curve":"black","depth":-2590,"value":2.70},{"curve":"black","depth":-2595,"value":1.71},{"curve":"black","depth":-2599,"value":2.72},{"curve":"black","depth":-2603,"value":2.80},{"curve":"black","depth":-2607,"value":2.70},{"curve":"black","depth":-2611,"value":2.78},{"curve":"black","depth":-2615,"value":2.72},{"curve":"black","depth":-2619,"value":1.40},{"curve":"black","depth":-2622,"value":2.76},{"curve":"black","depth":-2625,"value":1.40},{"curve":"black","depth":-2628,"value":2.80},{"curve":"black","depth":-2632,"value":2.88},{"curve":"black","depth":-2636,"value":2.94},{"curve":"black","depth":-2640,"value":2.86},{"curve":"black","depth":-2644,"value":2.98},{"curve":"black","depth":-2648,"value":2.88},{"curve":"black","depth":-2652,"value":2.95},{"curve":"black","depth":-2656,"value":2.85},{"curve":"black","depth":-2660,"value":2.92},{"curve":"black","depth":-2665,"value":2.86},{"curve":"black","depth":-2670,"value":2.96},{"curve":"black","depth":-2675,"value":2.88},{"curve":"black","depth":-2680,"value":2.93},{"curve":"black","depth":-2685,"value":2.85},{"curve":"black","depth":-2690,"value":2.92},{"curve":"black","depth":-2696,"value":2.79},{"curve":"black","depth":-2700,"value":2.90},{"curve":"black","depth":-2705,"value":2.96},{"curve":"black","depth":-2710,"value":2.88},{"curve":"black","depth":-2715,"value":2.98},{"curve":"black","depth":-2720,"value":2.87},{"curve":"black","depth":-2725,"value":2.93},{"curve":"black","depth":-2730,"value":2.84},{"curve":"black","depth":-2735,"value":2.90},{"curve":"black","depth":-2740,"value":2.80},{"curve":"black","depth":-2745,"value":2.86},{"curve":"black","depth":-2750,"value":2.76},{"curve":"black","depth":-2755,"value":2.82},{"curve":"black","depth":-2760,"value":2.72},{"curve":"black","depth":-2764,"value":1.41},{"curve":"black","depth":-2768,"value":2.70},{"curve":"black","depth":-2772,"value":2.86},{"curve":"black","depth":-2776,"value":2.64},{"curve":"black","depth":-2780,"value":2.82},{"curve":"black","depth":-2784,"value":2.58},{"curve":"black","depth":-2788,"value":2.78},{"curve":"black","depth":-2792,"value":2.60},{"curve":"black","depth":-2796,"value":2.84},{"curve":"black","depth":-2800,"value":2.62},{"curve":"black","depth":-2804,"value":2.76},{"curve":"black","depth":-2808,"value":1.71},{"curve":"black","depth":-2812,"value":2.66},{"curve":"black","depth":-2816,"value":2.78},{"curve":"black","depth":-2820,"value":2.62},{"curve":"black","depth":-2825,"value":2.74},{"curve":"black","depth":-2830,"value":2.64},{"curve":"black","depth":-2835,"value":2.76},{"curve":"black","depth":-2840,"value":2.60},{"curve":"black","depth":-2845,"value":2.72},{"curve":"black","depth":-2850,"value":2.62},{"curve":"black","depth":-2855,"value":2.30},{"curve":"black","depth":-2860,"value":2.70},{"curve":"black","depth":-2865,"value":2.56},{"curve":"black","depth":-2870,"value":2.74},{"curve":"black","depth":-2875,"value":2.48},{"curve":"black","depth":-2880,"value":2.66},{"curve":"black","depth":-2885,"value":2.58},{"curve":"black","depth":-2890,"value":2.72},{"curve":"black","depth":-2895,"value":2.50},{"curve":"black","depth":-2900,"value":2.18},{"curve":"black","depth":-2905,"value":2.62},{"curve":"black","depth":-2910,"value":2.48},{"curve":"black","depth":-2915,"value":2.66},{"curve":"black","depth":-2920,"value":2.42},{"curve":"black","depth":-2925,"value":2.60},{"curve":"black","depth":-2930,"value":2.52},{"curve":"black","depth":-2935,"value":2.68},{"curve":"black","depth":-2940,"value":2.58},{"curve":"black","depth":-2945,"value":2.62},{"curve":"black","depth":-2950,"value":2.70},{"curve":"black","depth":-2955,"value":2.58},{"curve":"black","depth":-2960,"value":2.66},{"curve":"black","depth":-2965,"value":2.60},{"curve":"black","depth":-2970,"value":2.72},{"curve":"black","depth":-2975,"value":2.62},{"curve":"black","depth":-2980,"value":2.68},{"curve":"black","depth":-2985,"value":2.60},{"curve":"black","depth":-2990,"value":2.70},{"curve":"black","depth":-2995,"value":2.64},{"curve":"black","depth":-3000,"value":2.68},
{"curve":"blue","depth":-1409,"value":2.31},{"curve":"blue","depth":-1410,"value":1.94},{"curve":"blue","depth":-1412,"value":2.05},{"curve":"blue","depth":-1416,"value":2.08},{"curve":"blue","depth":-1420,"value":2.04},{"curve":"blue","depth":-1425,"value":2.09},{"curve":"blue","depth":-1430,"value":2.05},{"curve":"blue","depth":-1435,"value":2.10},{"curve":"blue","depth":-1440,"value":2.06},{"curve":"blue","depth":-1445,"value":2.08},{"curve":"blue","depth":-1450,"value":2.04},{"curve":"blue","depth":-1455,"value":2.07},{"curve":"blue","depth":-1460,"value":2.03},{"curve":"blue","depth":-1465,"value":2.06},{"curve":"blue","depth":-1470,"value":2.15},{"curve":"blue","depth":-1473,"value":2.04},{"curve":"blue","depth":-1478,"value":2.07},{"curve":"blue","depth":-1483,"value":2.03},{"curve":"blue","depth":-1488,"value":2.06},{"curve":"blue","depth":-1493,"value":2.02},{"curve":"blue","depth":-1498,"value":2.05},{"curve":"blue","depth":-1503,"value":2.02},{"curve":"blue","depth":-1508,"value":2.06},{"curve":"blue","depth":-1513,"value":2.03},{"curve":"blue","depth":-1518,"value":2.05},{"curve":"blue","depth":-1523,"value":2.01},{"curve":"blue","depth":-1528,"value":2.04},{"curve":"blue","depth":-1533,"value":2.02},{"curve":"blue","depth":-1538,"value":2.14},{"curve":"blue","depth":-1541,"value":2.03},{"curve":"blue","depth":-1546,"value":2.05},{"curve":"blue","depth":-1551,"value":2.01},{"curve":"blue","depth":-1556,"value":2.04},{"curve":"blue","depth":-1561,"value":2.02},{"curve":"blue","depth":-1566,"value":2.05},{"curve":"blue","depth":-1571,"value":2.01},{"curve":"blue","depth":-1576,"value":2.04},{"curve":"blue","depth":-1581,"value":2.02},{"curve":"blue","depth":-1586,"value":2.06},{"curve":"blue","depth":-1591,"value":2.02},{"curve":"blue","depth":-1596,"value":2.05},{"curve":"blue","depth":-1601,"value":2.01},{"curve":"blue","depth":-1606,"value":2.04},{"curve":"blue","depth":-1611,"value":2.02},{"curve":"blue","depth":-1616,"value":2.05},{"curve":"blue","depth":-1621,"value":2.01},{"curve":"blue","depth":-1626,"value":2.04},{"curve":"blue","depth":-1631,"value":2.14},{"curve":"blue","depth":-1634,"value":2.02},{"curve":"blue","depth":-1639,"value":2.05},{"curve":"blue","depth":-1644,"value":2.01},{"curve":"blue","depth":-1649,"value":2.04},{"curve":"blue","depth":-1654,"value":2.00},{"curve":"blue","depth":-1659,"value":2.03},{"curve":"blue","depth":-1664,"value":2.01},{"curve":"blue","depth":-1669,"value":2.04},{"curve":"blue","depth":-1674,"value":2.00},{"curve":"blue","depth":-1679,"value":2.03},{"curve":"blue","depth":-1684,"value":2.01},{"curve":"blue","depth":-1689,"value":2.04},{"curve":"blue","depth":-1694,"value":2.00},{"curve":"blue","depth":-1699,"value":2.02},{"curve":"blue","depth":-1704,"value":2.01},{"curve":"blue","depth":-1709,"value":2.04},{"curve":"blue","depth":-1714,"value":2.00},{"curve":"blue","depth":-1719,"value":2.03},{"curve":"blue","depth":-1724,"value":2.13},{"curve":"blue","depth":-1727,"value":2.01},{"curve":"blue","depth":-1732,"value":2.04},{"curve":"blue","depth":-1737,"value":2.00},{"curve":"blue","depth":-1742,"value":2.03},{"curve":"blue","depth":-1746,"value":1.99},{"curve":"blue","depth":-1750,"value":2.02},{"curve":"blue","depth":-1754,"value":1.98},{"curve":"blue","depth":-1758,"value":2.00},{"curve":"blue","depth":-1763,"value":1.98},{"curve":"blue","depth":-1772,"value":2.22},{"curve":"blue","depth":-1774,"value":2.02},{"curve":"blue","depth":-1778,"value":1.98},{"curve":"blue","depth":-1784,"value":2.01},{"curve":"blue","depth":-1790,"value":1.97},{"curve":"blue","depth":-1796,"value":2.00},{"curve":"blue","depth":-1802,"value":1.98},{"curve":"blue","depth":-1808,"value":2.01},{"curve":"blue","depth":-1814,"value":1.99},{"curve":"blue","depth":-1820,"value":2.02},{"curve":"blue","depth":-1826,"value":2.00},{"curve":"blue","depth":-1830,"value":2.06},{"curve":"blue","depth":-1835,"value":2.01},{"curve":"blue","depth":-1842,"value":2.03},{"curve":"blue","depth":-1848,"value":1.99},{"curve":"blue","depth":-1855,"value":2.02},{"curve":"blue","depth":-1862,"value":2.00},{"curve":"blue","depth":-1868,"value":2.03},{"curve":"blue","depth":-1875,"value":2.00},{"curve":"blue","depth":-1882,"value":2.04},{"curve":"blue","depth":-1888,"value":2.01},{"curve":"blue","depth":-1895,"value":2.05},{"curve":"blue","depth":-1902,"value":2.02},{"curve":"blue","depth":-1908,"value":2.04},{"curve":"blue","depth":-1913,"value":2.00},{"curve":"blue","depth":-1922,"value":2.12},{"curve":"blue","depth":-1926,"value":2.02},{"curve":"blue","depth":-1932,"value":1.99},{"curve":"blue","depth":-1938,"value":2.02},{"curve":"blue","depth":-1945,"value":2.00},{"curve":"blue","depth":-1953,"value":2.12},{"curve":"blue","depth":-1957,"value":2.01},{"curve":"blue","depth":-1963,"value":1.97},{"curve":"blue","depth":-1969,"value":2.00},{"curve":"blue","depth":-1975,"value":1.96},{"curve":"blue","depth":-1980,"value":2.00},{"curve":"blue","depth":-1986,"value":1.98},{"curve":"blue","depth":-1992,"value":2.00},{"curve":"blue","depth":-1998,"value":2.01}
],
"sat": [
{"curve":"blue","depth":-758,"value":0.09},{"curve":"blue","depth":-760,"value":0.06},{"curve":"blue","depth":-762,"value":0.12},{"curve":"blue","depth":-764,"value":0.30},{"curve":"blue","depth":-766,"value":0.50},{"curve":"blue","depth":-768,"value":0.68},{"curve":"blue","depth":-770,"value":0.45},{"curve":"blue","depth":-773,"value":0.40},{"curve":"blue","depth":-776,"value":0.44},{"curve":"blue","depth":-779,"value":0.37},{"curve":"blue","depth":-782,"value":0.48},{"curve":"blue","depth":-785,"value":0.40},{"curve":"blue","depth":-788,"value":0.52},{"curve":"blue","depth":-791,"value":0.38},{"curve":"blue","depth":-794,"value":0.45},{"curve":"blue","depth":-797,"value":0.33},{"curve":"blue","depth":-800,"value":0.42},{"curve":"blue","depth":-803,"value":0.31},{"curve":"blue","depth":-806,"value":0.40},{"curve":"blue","depth":-809,"value":0.35},{"curve":"blue","depth":-812,"value":0.28},{"curve":"blue","depth":-814,"value":0.50},{"curve":"blue","depth":-816,"value":0.75},{"curve":"blue","depth":-818,"value":0.88},{"curve":"blue","depth":-821,"value":0.92},{"curve":"blue","depth":-825,"value":0.94},{"curve":"blue","depth":-830,"value":0.95},{"curve":"blue","depth":-835,"value":0.96},{"curve":"blue","depth":-840,"value":0.96},{"curve":"blue","depth":-845,"value":0.955},{"curve":"blue","depth":-850,"value":0.94},{"curve":"blue","depth":-855,"value":0.95},{"curve":"blue","depth":-860,"value":0.96},{"curve":"blue","depth":-865,"value":0.95},{"curve":"blue","depth":-871,"value":0.94},{"curve":"blue","depth":-878,"value":0.93},{"curve":"blue","depth":-884,"value":0.90},{"curve":"blue","depth":-890,"value":0.86},{"curve":"blue","depth":-896,"value":0.80},{"curve":"blue","depth":-900,"value":0.84},{"curve":"blue","depth":-905,"value":0.74},{"curve":"blue","depth":-910,"value":0.70},{"curve":"blue","depth":-915,"value":0.66},{"curve":"blue","depth":-920,"value":0.64},
{"curve":"black","depth":-864,"value":0.06},{"curve":"black","depth":-866,"value":0.43},{"curve":"black","depth":-869,"value":0.47},{"curve":"black","depth":-874,"value":0.93},{"curve":"black","depth":-880,"value":0.94},{"curve":"black","depth":-886,"value":0.92},{"curve":"black","depth":-892,"value":0.95},{"curve":"black","depth":-898,"value":0.93},{"curve":"black","depth":-904,"value":0.96},{"curve":"black","depth":-910,"value":0.93},{"curve":"black","depth":-916,"value":0.97},{"curve":"black","depth":-922,"value":0.94},{"curve":"black","depth":-928,"value":0.96},{"curve":"black","depth":-934,"value":0.92},{"curve":"black","depth":-940,"value":0.95},{"curve":"black","depth":-946,"value":0.90},{"curve":"black","depth":-952,"value":0.95},{"curve":"black","depth":-958,"value":0.93},{"curve":"black","depth":-964,"value":0.96},{"curve":"black","depth":-970,"value":0.92},{"curve":"black","depth":-976,"value":0.95},{"curve":"black","depth":-982,"value":0.93},{"curve":"black","depth":-988,"value":0.96},{"curve":"black","depth":-994,"value":0.91},{"curve":"black","depth":-1000,"value":0.95},{"curve":"black","depth":-1006,"value":0.93},{"curve":"black","depth":-1012,"value":0.96},{"curve":"black","depth":-1018,"value":0.92},{"curve":"black","depth":-1024,"value":0.95},{"curve":"black","depth":-1030,"value":0.93},{"curve":"black","depth":-1036,"value":0.96},{"curve":"black","depth":-1042,"value":0.93},{"curve":"black","depth":-1048,"value":0.95},{"curve":"black","depth":-1054,"value":0.92},{"curve":"black","depth":-1060,"value":0.95},{"curve":"black","depth":-1066,"value":0.93},{"curve":"black","depth":-1072,"value":0.96},{"curve":"black","depth":-1078,"value":0.93},{"curve":"black","depth":-1084,"value":0.95},{"curve":"black","depth":-1090,"value":0.92},{"curve":"black","depth":-1096,"value":0.95},{"curve":"black","depth":-1102,"value":0.93},{"curve":"black","depth":-1108,"value":0.96},{"curve":"black","depth":-1112,"value":0.95},{"curve":"black","depth":-1116,"value":0.90},{"curve":"black","depth":-1119,"value":0.80},{"curve":"black","depth":-1122,"value":0.66},{"curve":"black","depth":-1125,"value":0.62},{"curve":"black","depth":-1128,"value":0.72},{"curve":"black","depth":-1131,"value":0.60},{"curve":"black","depth":-1134,"value":0.70},{"curve":"black","depth":-1137,"value":0.63},{"curve":"black","depth":-1140,"value":0.76},{"curve":"black","depth":-1143,"value":0.66},{"curve":"black","depth":-1146,"value":0.72},{"curve":"black","depth":-1149,"value":0.64},{"curve":"black","depth":-1152,"value":0.74},{"curve":"black","depth":-1155,"value":0.66},{"curve":"black","depth":-1158,"value":0.70},{"curve":"black","depth":-1161,"value":0.62},{"curve":"black","depth":-1164,"value":0.68},{"curve":"black","depth":-1167,"value":0.72},{"curve":"black","depth":-1170,"value":0.65},{"curve":"black","depth":-1173,"value":0.69},{"curve":"black","depth":-1176,"value":0.66},{"curve":"black","depth":-1179,"value":0.71},{"curve":"black","depth":-1182,"value":0.68},{"curve":"black","depth":-1185,"value":0.73},{"curve":"black","depth":-1188,"value":0.70},{"curve":"black","depth":-1191,"value":0.76},{"curve":"black","depth":-1194,"value":0.72},{"curve":"black","depth":-1197,"value":0.78},{"curve":"black","depth":-1200,"value":0.74},{"curve":"black","depth":-1203,"value":0.80},{"curve":"black","depth":-1206,"value":0.76},{"curve":"black","depth":-1209,"value":0.82},{"curve":"black","depth":-1212,"value":0.78},{"curve":"black","depth":-1215,"value":0.84},{"curve":"black","depth":-1218,"value":0.80},{"curve":"black","depth":-1221,"value":0.86},{"curve":"black","depth":-1224,"value":0.82},{"curve":"black","depth":-1227,"value":0.88},{"curve":"black","depth":-1230,"value":0.84},{"curve":"black","depth":-1233,"value":0.94},{"curve":"black","depth":-1236,"value":0.78},{"curve":"black","depth":-1239,"value":0.84},{"curve":"black","depth":-1242,"value":0.82},{"curve":"black","depth":-1246,"value":0.83},{"curve":"black","depth":-1252,"value":0.82},{"curve":"black","depth":-1262,"value":0.82},
{"curve":"red","depth":-1362,"value":0.84},{"curve":"red","depth":-1364,"value":0.92},{"curve":"red","depth":-1366,"value":0.96},{"curve":"red","depth":-1368,"value":0.97},{"curve":"red","depth":-1370,"value":0.94},{"curve":"red","depth":-1373,"value":0.88},{"curve":"red","depth":-1376,"value":0.94},{"curve":"red","depth":-1379,"value":0.96},{"curve":"red","depth":-1382,"value":0.90},{"curve":"red","depth":-1385,"value":0.95},{"curve":"red","depth":-1388,"value":0.92},{"curve":"red","depth":-1391,"value":0.96},{"curve":"red","depth":-1395,"value":0.93},{"curve":"red","depth":-1399,"value":0.90},{"curve":"red","depth":-1405,"value":0.92},{"curve":"red","depth":-1410,"value":0.70},{"curve":"red","depth":-1412,"value":0.40},{"curve":"red","depth":-1415,"value":0.30},{"curve":"red","depth":-1417,"value":0.40},{"curve":"red","depth":-1419,"value":0.25},{"curve":"red","depth":-1421,"value":0.34},{"curve":"red","depth":-1423,"value":0.28},{"curve":"red","depth":-1425,"value":0.36},{"curve":"red","depth":-1427,"value":0.22},{"curve":"red","depth":-1429,"value":0.32},{"curve":"red","depth":-1431,"value":0.27},{"curve":"red","depth":-1433,"value":0.39},{"curve":"red","depth":-1435,"value":0.29},{"curve":"red","depth":-1437,"value":0.35},{"curve":"red","depth":-1439,"value":0.26},{"curve":"red","depth":-1441,"value":0.33},{"curve":"red","depth":-1443,"value":0.23},{"curve":"red","depth":-1445,"value":0.31},{"curve":"red","depth":-1447,"value":0.20},{"curve":"red","depth":-1449,"value":0.36},{"curve":"red","depth":-1451,"value":0.28},{"curve":"red","depth":-1453,"value":0.32},{"curve":"red","depth":-1455,"value":0.17},{"curve":"red","depth":-1457,"value":0.30},
{"curve":"green","depth":-1472,"value":0.94},{"curve":"green","depth":-1480,"value":0.95},{"curve":"green","depth":-1495,"value":0.945},{"curve":"green","depth":-1510,"value":0.95},{"curve":"green","depth":-1530,"value":0.945},{"curve":"green","depth":-1550,"value":0.95},{"curve":"green","depth":-1570,"value":0.945},{"curve":"green","depth":-1590,"value":0.95},{"curve":"green","depth":-1610,"value":0.945},{"curve":"green","depth":-1630,"value":0.95},{"curve":"green","depth":-1652,"value":0.945},{"curve":"green","depth":-1655,"value":0.90},{"curve":"green","depth":-1660,"value":0.85},{"curve":"green","depth":-1667,"value":0.80},{"curve":"green","depth":-1675,"value":0.74},{"curve":"green","depth":-1685,"value":0.68},{"curve":"green","depth":-1693,"value":0.63},{"curve":"green","depth":-1697,"value":0.62},{"curve":"green","depth":-1700,"value":0.65},{"curve":"green","depth":-1704,"value":0.63},{"curve":"green","depth":-1708,"value":0.68},{"curve":"green","depth":-1712,"value":0.66},{"curve":"green","depth":-1716,"value":0.70},{"curve":"green","depth":-1720,"value":0.68},{"curve":"green","depth":-1724,"value":0.71},{"curve":"green","depth":-1728,"value":0.69},{"curve":"green","depth":-1733,"value":0.73},{"curve":"green","depth":-1738,"value":0.72},{"curve":"green","depth":-1742,"value":0.76},{"curve":"green","depth":-1746,"value":0.74},{"curve":"green","depth":-1750,"value":0.72},
{"curve":"black2","depth":-1745,"value":0.50},{"curve":"black2","depth":-1750,"value":0.54},{"curve":"black2","depth":-1756,"value":0.52},{"curve":"black2","depth":-1762,"value":0.57},{"curve":"black2","depth":-1768,"value":0.54},{"curve":"black2","depth":-1774,"value":0.58},{"curve":"black2","depth":-1780,"value":0.55},{"curve":"black2","depth":-1786,"value":0.60},{"curve":"black2","depth":-1792,"value":0.57},{"curve":"black2","depth":-1798,"value":0.61},{"curve":"black2","depth":-1804,"value":0.58},{"curve":"black2","depth":-1810,"value":0.60},{"curve":"black2","depth":-1816,"value":0.56},{"curve":"black2","depth":-1822,"value":0.59},{"curve":"black2","depth":-1828,"value":0.55},{"curve":"black2","depth":-1834,"value":0.58},{"curve":"black2","depth":-1840,"value":0.56},{"curve":"black2","depth":-1846,"value":0.60},{"curve":"black2","depth":-1852,"value":0.57},{"curve":"black2","depth":-1858,"value":0.59},{"curve":"black2","depth":-1864,"value":0.55},{"curve":"black2","depth":-1870,"value":0.58},{"curve":"black2","depth":-1876,"value":0.56},{"curve":"black2","depth":-1882,"value":0.59},{"curve":"black2","depth":-1888,"value":0.58},{"curve":"black2","depth":-1893,"value":0.65},{"curve":"black2","depth":-1896,"value":0.78},{"curve":"black2","depth":-1900,"value":0.84},{"curve":"black2","depth":-1903,"value":0.87},{"curve":"black2","depth":-1906,"value":0.84},{"curve":"black2","depth":-1909,"value":0.86},{"curve":"black2","depth":-1913,"value":0.78},{"curve":"black2","depth":-1917,"value":0.68},{"curve":"black2","depth":-1921,"value":0.62},{"curve":"black2","depth":-1925,"value":0.60},{"curve":"black2","depth":-1930,"value":0.58},{"curve":"black2","depth":-1935,"value":0.60},{"curve":"black2","depth":-1940,"value":0.56},{"curve":"black2","depth":-1945,"value":0.59},{"curve":"black2","depth":-1950,"value":0.55},{"curve":"black2","depth":-1955,"value":0.58},{"curve":"black2","depth":-1960,"value":0.54},{"curve":"black2","depth":-1965,"value":0.57},{"curve":"black2","depth":-1970,"value":0.53},{"curve":"black2","depth":-1975,"value":0.56},{"curve":"black2","depth":-1980,"value":0.52},{"curve":"black2","depth":-1985,"value":0.49},{"curve":"black2","depth":-1990,"value":0.55},{"curve":"black2","depth":-1995,"value":0.57},{"curve":"black2","depth":-2000,"value":0.54},{"curve":"black2","depth":-2006,"value":0.58},{"curve":"black2","depth":-2012,"value":0.55},{"curve":"black2","depth":-2018,"value":0.57},{"curve":"black2","depth":-2024,"value":0.56},{"curve":"black2","depth":-2030,"value":0.58},{"curve":"black2","depth":-2036,"value":0.56},{"curve":"black2","depth":-2042,"value":0.57},{"curve":"black2","depth":-2048,"value":0.56},{"curve":"black2","depth":-2054,"value":0.58},{"curve":"black2","depth":-2060,"value":0.57},{"curve":"black2","depth":-2066,"value":0.55},{"curve":"black2","depth":-2072,"value":0.57},{"curve":"black2","depth":-2078,"value":0.56},{"curve":"black2","depth":-2084,"value":0.58},{"curve":"black2","depth":-2090,"value":0.57},{"curve":"black2","depth":-2096,"value":0.56},{"curve":"black2","depth":-2102,"value":0.57},{"curve":"black2","depth":-2108,"value":0.56},{"curve":"black2","depth":-2114,"value":0.58},{"curve":"black2","depth":-2120,"value":0.57},{"curve":"black2","depth":-2126,"value":0.56},{"curve":"black2","depth":-2132,"value":0.57},{"curve":"black2","depth":-2140,"value":0.58},{"curve":"black2","depth":-2146,"value":0.62},{"curve":"black2","depth":-2152,"value":0.70},{"curve":"black2","depth":-2157,"value":0.78},{"curve":"black2","depth":-2162,"value":0.82},{"curve":"black2","depth":-2166,"value":0.84},{"curve":"black2","depth":-2170,"value":0.80},{"curve":"black2","depth":-2174,"value":0.74},{"curve":"black2","depth":-2178,"value":0.66},{"curve":"black2","depth":-2182,"value":0.63},{"curve":"black2","depth":-2186,"value":0.60},{"curve":"black2","depth":-2190,"value":0.66},{"curve":"black2","depth":-2194,"value":0.62},{"curve":"black2","depth":-2198,"value":0.68},{"curve":"black2","depth":-2203,"value":0.70},{"curve":"black2","depth":-2208,"value":0.76},{"curve":"black2","depth":-2212,"value":0.82},{"curve":"black2","depth":-2216,"value":0.78},{"curve":"black2","depth":-2220,"value":0.82},{"curve":"black2","depth":-2225,"value":0.74},{"curve":"black2","depth":-2230,"value":0.70},{"curve":"black2","depth":-2235,"value":0.74},{"curve":"black2","depth":-2240,"value":0.72},{"curve":"black2","depth":-2245,"value":0.78},{"curve":"black2","depth":-2250,"value":0.76},{"curve":"black2","depth":-2255,"value":0.82},{"curve":"black2","depth":-2260,"value":0.78},{"curve":"black2","depth":-2265,"value":0.74},{"curve":"black2","depth":-2270,"value":0.68},{"curve":"black2","depth":-2275,"value":0.66},{"curve":"black2","depth":-2280,"value":0.70},{"curve":"black2","depth":-2285,"value":0.73},{"curve":"black2","depth":-2290,"value":0.75},{"curve":"black2","depth":-2295,"value":0.77},{"curve":"black2","depth":-2300,"value":0.76},{"curve":"black2","depth":-2305,"value":0.79},{"curve":"black2","depth":-2310,"value":0.80},{"curve":"black2","depth":-2315,"value":0.84},{"curve":"black2","depth":-2320,"value":0.86},{"curve":"black2","depth":-2325,"value":0.88},{"curve":"black2","depth":-2330,"value":0.91},{"curve":"black2","depth":-2336,"value":0.92},{"curve":"black2","depth":-2342,"value":0.91},{"curve":"black2","depth":-2348,"value":0.88},{"curve":"black2","depth":-2354,"value":0.87},{"curve":"black2","depth":-2360,"value":0.90},{"curve":"black2","depth":-2366,"value":0.92},{"curve":"black2","depth":-2372,"value":0.93},{"curve":"black2","depth":-2380,"value":0.92},{"curve":"black2","depth":-2388,"value":0.93},{"curve":"black2","depth":-2396,"value":0.94},{"curve":"black2","depth":-2404,"value":0.93},{"curve":"black2","depth":-2412,"value":0.94},{"curve":"black2","depth":-2420,"value":0.92},{"curve":"black2","depth":-2428,"value":0.93},{"curve":"black2","depth":-2436,"value":0.94},{"curve":"black2","depth":-2444,"value":0.93},{"curve":"black2","depth":-2452,"value":0.90},{"curve":"black2","depth":-2458,"value":0.89},{"curve":"black2","depth":-2464,"value":0.92},{"curve":"black2","depth":-2470,"value":0.91},{"curve":"black2","depth":-2476,"value":0.93},{"curve":"black2","depth":-2482,"value":0.92},{"curve":"black2","depth":-2488,"value":0.91},{"curve":"black2","depth":-2494,"value":0.92},{"curve":"black2","depth":-2498,"value":0.90},{"curve":"black2","depth":-2501,"value":0.66},{"curve":"black2","depth":-2504,"value":0.90},{"curve":"black2","depth":-2510,"value":0.92},{"curve":"black2","depth":-2516,"value":0.93},{"curve":"black2","depth":-2522,"value":0.90},{"curve":"black2","depth":-2528,"value":0.87},{"curve":"black2","depth":-2534,"value":0.84},{"curve":"black2","depth":-2540,"value":0.80},{"curve":"black2","depth":-2546,"value":0.75},{"curve":"black2","depth":-2550,"value":0.66},{"curve":"black2","depth":-2554,"value":0.63},{"curve":"black2","depth":-2558,"value":0.58},{"curve":"black2","depth":-2562,"value":0.62},{"curve":"black2","depth":-2566,"value":0.57},{"curve":"black2","depth":-2570,"value":0.61},{"curve":"black2","depth":-2575,"value":0.58},{"curve":"black2","depth":-2580,"value":0.63},{"curve":"black2","depth":-2585,"value":0.59},{"curve":"black2","depth":-2590,"value":0.62},{"curve":"black2","depth":-2595,"value":0.58},{"curve":"black2","depth":-2600,"value":0.63},{"curve":"black2","depth":-2605,"value":0.60}
],
"poro_names": [{"label":"Fiqa","kind":"label_black","depth":-804,"x":0},{"label":"Natih A","kind":"label_green","depth":-905,"x":0},{"label":"Nahr Umr","kind":"label_black","depth":-1384,"x":0},{"label":"Shuaiba","kind":"label_red","depth":-1503,"x":0}],
"poro_nums": [{"label":"1","kind":"label_black","depth":-1037,"x":0.035},{"label":"2","kind":"label_black","depth":-1204,"x":0.036}],
"poro_rot": [{"label":"Natih B-G","kind":"label_black","depth":-1122,"x":0.074}],
"dens_names": [{"label":"Fiqa","kind":"label_black","depth":-799,"x":1.4},{"label":"Natih A","kind":"label_green","depth":-898,"x":1.4},{"label":"Nahr Umr","kind":"label_black","depth":-1382,"x":1.4},{"label":"Shuaiba","kind":"label_red","depth":-1500,"x":1.4}],
"dens_nums": [{"label":"1","kind":"label_black","depth":-1045,"x":1.56},{"label":"2","kind":"label_black","depth":-1202,"x":1.56}],
"dens_rot": [{"label":"Natih B-G","kind":"label_black","depth":-1119,"x":1.475}]
},
"vconcat": [
{"hconcat": [
{"title": {"text": "Porosity"}, "width": 810, "height": 1630,
 "resolve": {"axis": {"x": "independent", "y": "independent"}},
 "layer": [
  {"data": {"name": "poro"}, "mark": {"type": "line", "strokeWidth": 3, "strokeJoin": "round"},
   "encoding": {
    "x": {"field": "value", "type": "quantitative", "scale": {"domain": [0, 0.5], "nice": false, "zero": false}, "axis": {"orient": "bottom", "values": [0, 0.1, 0.2, 0.3, 0.4, 0.5], "format": ".1f", "title": "porosity"}},
    "y": {"field": "depth", "type": "quantitative", "scale": {"domain": [-1600, -700], "nice": false, "zero": false}, "axis": {"orient": "left", "values": [-700, -800, -900, -1000, -1100, -1200, -1300, -1400, -1500, -1600], "labelExpr": "'-' + abs(datum.value)", "title": "depth [m]"}},
    "color": {"field": "curve", "type": "nominal", "scale": {"domain": ["black", "black2", "blue", "blue2", "red", "green", "purple", "label_black", "label_green", "label_red"], "range": ["#121212", "#121212", "#2440d6", "#2440d6", "#e42233", "#64bb4e", "#9b4fd0", "#121212", "#2e8a3b", "#e42233"]}, "legend": null},
    "order": {"field": "depth", "sort": "descending"}}},
  {"data": {"name": "tops_top"}, "mark": {"type": "rule", "color": "#50555f", "strokeWidth": 2},
   "encoding": {
    "x": {"datum": 0, "type": "quantitative", "scale": {"domain": [0, 0.5], "nice": false, "zero": false}, "axis": {"orient": "top", "values": [0, 0.1, 0.2, 0.3, 0.4, 0.5], "labels": false, "title": null}},
    "x2": {"datum": 0.5},
    "y": {"field": "depth", "type": "quantitative", "scale": {"domain": [-1600, -700], "nice": false, "zero": false}, "axis": {"orient": "right", "values": [-700, -800, -900, -1000, -1100, -1200, -1300, -1400, -1500, -1600], "labels": false, "title": null}}}},
  {"data": {"name": "tops_top"}, "mark": {"type": "rule", "opacity": 0},
   "encoding": {
    "x": {"datum": 0, "type": "quantitative", "scale": {"domain": [0, 0.5], "nice": false, "zero": false}, "axis": {"orient": "bottom", "values": [0.05, 0.15, 0.25, 0.35, 0.45], "labels": false, "tickSize": 12, "title": null}},
    "x2": {"datum": 0.5},
    "y": {"field": "depth", "type": "quantitative", "scale": {"domain": [-1600, -700], "nice": false, "zero": false}, "axis": {"orient": "left", "values": [-750, -850, -950, -1050, -1150, -1250, -1350, -1450, -1550], "labels": false, "tickSize": 12, "title": null}}}},
  {"data": {"name": "tops_top"}, "mark": {"type": "rule", "opacity": 0},
   "encoding": {
    "x": {"datum": 0, "type": "quantitative", "scale": {"domain": [0, 0.5], "nice": false, "zero": false}, "axis": {"orient": "top", "values": [0.05, 0.15, 0.25, 0.35, 0.45], "labels": false, "tickSize": 12, "title": null}},
    "x2": {"datum": 0.5},
    "y": {"field": "depth", "type": "quantitative", "scale": {"domain": [-1600, -700], "nice": false, "zero": false}, "axis": {"orient": "right", "values": [-750, -850, -950, -1050, -1150, -1250, -1350, -1450, -1550], "labels": false, "tickSize": 12, "title": null}}}},
  {"data": {"name": "poro_names"}, "mark": {"type": "text", "font": "DejaVu Sans", "fontWeight": "bold", "fontSize": 62, "align": "left", "baseline": "middle", "dx": 3},
   "encoding": {
    "x": {"field": "x", "type": "quantitative", "scale": {"domain": [0, 0.5], "nice": false, "zero": false}, "axis": null},
    "y": {"field": "depth", "type": "quantitative", "scale": {"domain": [-1600, -700], "nice": false, "zero": false}, "axis": null},
    "text": {"field": "label"},
    "color": {"field": "kind", "type": "nominal", "scale": {"domain": ["black", "black2", "blue", "blue2", "red", "green", "purple", "label_black", "label_green", "label_red"], "range": ["#121212", "#121212", "#2440d6", "#2440d6", "#e42233", "#64bb4e", "#9b4fd0", "#121212", "#2e8a3b", "#e42233"]}, "legend": null}}},
  {"data": {"name": "poro_nums"}, "mark": {"type": "text", "font": "DejaVu Sans", "fontWeight": "bold", "fontSize": 62, "align": "center", "baseline": "middle"},
   "encoding": {
    "x": {"field": "x", "type": "quantitative", "scale": {"domain": [0, 0.5], "nice": false, "zero": false}, "axis": null},
    "y": {"field": "depth", "type": "quantitative", "scale": {"domain": [-1600, -700], "nice": false, "zero": false}, "axis": null},
    "text": {"field": "label"}, "color": {"value": "#121212"}}},
  {"data": {"name": "poro_rot"}, "mark": {"type": "text", "font": "DejaVu Sans", "fontWeight": "bold", "fontSize": 62, "align": "center", "baseline": "middle", "angle": 270},
   "encoding": {
    "x": {"field": "x", "type": "quantitative", "scale": {"domain": [0, 0.5], "nice": false, "zero": false}, "axis": null},
    "y": {"field": "depth", "type": "quantitative", "scale": {"domain": [-1600, -700], "nice": false, "zero": false}, "axis": null},
    "text": {"field": "label"}, "color": {"value": "#121212"}}}
 ]},
{"title": {"text": "Permeability"}, "width": 810, "height": 1630,
 "resolve": {"axis": {"x": "independent", "y": "independent"}},
 "layer": [
  {"data": {"name": "perm"}, "mark": {"type": "line", "strokeWidth": 3, "strokeJoin": "round"},
   "encoding": {
    "x": {"field": "value", "type": "quantitative", "scale": {"domain": [0, 550], "nice": false, "zero": false}, "axis": {"orient": "bottom", "values": [0, 100, 200, 300, 400, 500], "format": "d", "title": "Permeability [mD]"}},
    "y": {"field": "depth", "type": "quantitative", "scale": {"domain": [-1600, -700], "nice": false, "zero": false}, "axis": {"orient": "left", "values": [-700, -800, -900, -1000, -1100, -1200, -1300, -1400, -1500, -1600], "labelExpr": "'-' + abs(datum.value)", "title": "depth [m]"}},
    "color": {"field": "curve", "type": "nominal", "scale": {"domain": ["black", "black2", "blue", "blue2", "red", "green", "purple", "label_black", "label_green", "label_red"], "range": ["#121212", "#121212", "#2440d6", "#2440d6", "#e42233", "#64bb4e", "#9b4fd0", "#121212", "#2e8a3b", "#e42233"]}, "legend": null},
    "order": {"field": "depth", "sort": "descending"}}},
  {"data": {"name": "tops_top"}, "mark": {"type": "rule", "color": "#50555f", "strokeWidth": 2},
   "encoding": {
    "x": {"datum": 0, "type": "quantitative", "scale": {"domain": [0, 550], "nice": false, "zero": false}, "axis": {"orient": "top", "values": [0, 100, 200, 300, 400, 500], "labels": false, "title": null}},
    "x2": {"datum": 550},
    "y": {"field": "depth", "type": "quantitative", "scale": {"domain": [-1600, -700], "nice": false, "zero": false}, "axis": {"orient": "right", "values": [-700, -800, -900, -1000, -1100, -1200, -1300, -1400, -1500, -1600], "labels": false, "title": null}}}},
  {"data": {"name": "tops_top"}, "mark": {"type": "rule", "opacity": 0},
   "encoding": {
    "x": {"datum": 0, "type": "quantitative", "scale": {"domain": [0, 550], "nice": false, "zero": false}, "axis": {"orient": "bottom", "values": [50, 150, 250, 350, 450, 550], "labels": false, "tickSize": 12, "title": null}},
    "x2": {"datum": 550},
    "y": {"field": "depth", "type": "quantitative", "scale": {"domain": [-1600, -700], "nice": false, "zero": false}, "axis": {"orient": "left", "values": [-750, -850, -950, -1050, -1150, -1250, -1350, -1450, -1550], "labels": false, "tickSize": 12, "title": null}}}},
  {"data": {"name": "tops_top"}, "mark": {"type": "rule", "opacity": 0},
   "encoding": {
    "x": {"datum": 0, "type": "quantitative", "scale": {"domain": [0, 550], "nice": false, "zero": false}, "axis": {"orient": "top", "values": [50, 150, 250, 350, 450, 550], "labels": false, "tickSize": 12, "title": null}},
    "x2": {"datum": 550},
    "y": {"field": "depth", "type": "quantitative", "scale": {"domain": [-1600, -700], "nice": false, "zero": false}, "axis": {"orient": "right", "values": [-750, -850, -950, -1050, -1150, -1250, -1350, -1450, -1550], "labels": false, "tickSize": 12, "title": null}}}}
 ]},
{"title": {"text": "Resistivity"}, "width": 810, "height": 1630,
 "resolve": {"axis": {"x": "independent", "y": "independent"}},
 "layer": [
  {"data": {"name": "resist"}, "mark": {"type": "line", "strokeWidth": 2.6, "strokeJoin": "round", "opacity": 0.9},
   "encoding": {
    "x": {"field": "value", "type": "quantitative", "scale": {"domain": [0, 1500], "nice": false, "zero": false}, "axis": {"orient": "bottom", "values": [0, 250, 500, 750, 1000, 1250, 1500], "format": "d", "title": "resistivity [Ω.m]"}},
    "y": {"field": "depth", "type": "quantitative", "scale": {"domain": [-1600, -700], "nice": false, "zero": false}, "axis": {"orient": "left", "values": [-700, -800, -900, -1000, -1100, -1200, -1300, -1400, -1500, -1600], "labelExpr": "'-' + abs(datum.value)", "title": "depth [m]"}},
    "color": {"field": "curve", "type": "nominal", "scale": {"domain": ["black", "black2", "blue", "blue2", "red", "green", "purple", "label_black", "label_green", "label_red"], "range": ["#121212", "#121212", "#2440d6", "#2440d6", "#e42233", "#64bb4e", "#9b4fd0", "#121212", "#2e8a3b", "#e42233"]}, "legend": null},
    "order": {"field": "depth", "sort": "descending"}}},
  {"data": {"name": "tops_top"}, "mark": {"type": "rule", "color": "#50555f", "strokeWidth": 2},
   "encoding": {
    "x": {"datum": 0, "type": "quantitative", "scale": {"domain": [0, 1500], "nice": false, "zero": false}, "axis": {"orient": "top", "values": [0, 250, 500, 750, 1000, 1250, 1500], "labels": false, "title": null}},
    "x2": {"datum": 1500},
    "y": {"field": "depth", "type": "quantitative", "scale": {"domain": [-1600, -700], "nice": false, "zero": false}, "axis": {"orient": "right", "values": [-700, -800, -900, -1000, -1100, -1200, -1300, -1400, -1500, -1600], "labels": false, "title": null}}}},
  {"data": {"name": "tops_top"}, "mark": {"type": "rule", "opacity": 0},
   "encoding": {
    "x": {"datum": 0, "type": "quantitative", "scale": {"domain": [0, 1500], "nice": false, "zero": false}, "axis": null},
    "x2": {"datum": 1500},
    "y": {"field": "depth", "type": "quantitative", "scale": {"domain": [-1600, -700], "nice": false, "zero": false}, "axis": {"orient": "left", "values": [-750, -850, -950, -1050, -1150, -1250, -1350, -1450, -1550], "labels": false, "tickSize": 12, "title": null}}}},
  {"data": {"name": "tops_top"}, "mark": {"type": "rule", "opacity": 0},
   "encoding": {
    "x": {"datum": 0, "type": "quantitative", "scale": {"domain": [0, 1500], "nice": false, "zero": false}, "axis": null},
    "x2": {"datum": 1500},
    "y": {"field": "depth", "type": "quantitative", "scale": {"domain": [-1600, -700], "nice": false, "zero": false}, "axis": {"orient": "right", "values": [-750, -850, -950, -1050, -1150, -1250, -1350, -1450, -1550], "labels": false, "tickSize": 12, "title": null}}}}
 ]}
], "spacing": 327, "bounds": "flush"},
{"hconcat": [
{"title": {"text": "Density"}, "width": 810, "height": 1630,
 "resolve": {"axis": {"x": "independent", "y": "independent"}},
 "layer": [
  {"data": {"name": "dens"}, "mark": {"type": "line", "strokeWidth": 3.2, "strokeJoin": "round"},
   "encoding": {
    "x": {"field": "value", "type": "quantitative", "scale": {"domain": [1.4, 3.0], "nice": false, "zero": false}, "axis": {"orient": "bottom", "values": [1.4, 1.6, 1.8, 2.0, 2.2, 2.4, 2.6, 2.8, 3.0], "format": ".1f", "title": "density [g/cm3]"}},
    "y": {"field": "depth", "type": "quantitative", "scale": {"domain": [-3000, -700], "nice": false, "zero": false}, "axis": {"orient": "left", "values": [-700, -800, -900, -1000, -1100, -1200, -1300, -1400, -1500, -1600, -1700, -1800, -1900, -2000, -2100, -2200, -2300, -2400, -2500, -2600, -2700, -2800, -2900, -3000], "labelExpr": "'-' + abs(datum.value)", "title": "depth [m]"}},
    "color": {"field": "curve", "type": "nominal", "scale": {"domain": ["black", "black2", "blue", "blue2", "red", "green", "purple", "label_black", "label_green", "label_red"], "range": ["#121212", "#121212", "#2440d6", "#2440d6", "#e42233", "#64bb4e", "#9b4fd0", "#121212", "#2e8a3b", "#e42233"]}, "legend": null},
    "order": {"field": "depth", "sort": "descending"}}},
  {"data": {"name": "tops_bottom"}, "mark": {"type": "rule", "color": "#50555f", "strokeWidth": 2},
   "encoding": {
    "x": {"datum": 1.4, "type": "quantitative", "scale": {"domain": [1.4, 3.0], "nice": false, "zero": false}, "axis": {"orient": "top", "values": [1.4, 1.6, 1.8, 2.0, 2.2, 2.4, 2.6, 2.8, 3.0], "labels": false, "title": null}},
    "x2": {"datum": 3.0},
    "y": {"field": "depth", "type": "quantitative", "scale": {"domain": [-3000, -700], "nice": false, "zero": false}, "axis": {"orient": "right", "values": [-700, -800, -900, -1000, -1100, -1200, -1300, -1400, -1500, -1600, -1700, -1800, -1900, -2000, -2100, -2200, -2300, -2400, -2500, -2600, -2700, -2800, -2900, -3000], "labels": false, "title": null}}}},
  {"data": {"name": "tops_bottom"}, "mark": {"type": "rule", "opacity": 0},
   "encoding": {
    "x": {"datum": 1.4, "type": "quantitative", "scale": {"domain": [1.4, 3.0], "nice": false, "zero": false}, "axis": {"orient": "bottom", "values": [1.5, 1.7, 1.9, 2.1, 2.3, 2.5, 2.7, 2.9], "labels": false, "tickSize": 12, "title": null}},
    "x2": {"datum": 3.0},
    "y": {"field": "depth", "type": "quantitative", "scale": {"domain": [-3000, -700], "nice": false, "zero": false}, "axis": {"orient": "left", "values": [-750, -850, -950, -1050, -1150, -1250, -1350, -1450, -1550, -1650, -1750, -1850, -1950, -2050, -2150, -2250, -2350, -2450, -2550, -2650, -2750, -2850, -2950], "labels": false, "tickSize": 12, "title": null}}}},
  {"data": {"name": "tops_bottom"}, "mark": {"type": "rule", "opacity": 0},
   "encoding": {
    "x": {"datum": 1.4, "type": "quantitative", "scale": {"domain": [1.4, 3.0], "nice": false, "zero": false}, "axis": {"orient": "top", "values": [1.5, 1.7, 1.9, 2.1, 2.3, 2.5, 2.7, 2.9], "labels": false, "tickSize": 12, "title": null}},
    "x2": {"datum": 3.0},
    "y": {"field": "depth", "type": "quantitative", "scale": {"domain": [-3000, -700], "nice": false, "zero": false}, "axis": {"orient": "right", "values": [-750, -850, -950, -1050, -1150, -1250, -1350, -1450, -1550, -1650, -1750, -1850, -1950, -2050, -2150, -2250, -2350, -2450, -2550, -2650, -2750, -2850, -2950], "labels": false, "tickSize": 12, "title": null}}}},
  {"data": {"name": "dens_names"}, "mark": {"type": "text", "font": "DejaVu Sans", "fontWeight": "bold", "fontSize": 62, "align": "left", "baseline": "middle", "dx": 5},
   "encoding": {
    "x": {"field": "x", "type": "quantitative", "scale": {"domain": [1.4, 3.0], "nice": false, "zero": false}, "axis": null},
    "y": {"field": "depth", "type": "quantitative", "scale": {"domain": [-3000, -700], "nice": false, "zero": false}, "axis": null},
    "text": {"field": "label"},
    "color": {"field": "kind", "type": "nominal", "scale": {"domain": ["black", "black2", "blue", "blue2", "red", "green", "purple", "label_black", "label_green", "label_red"], "range": ["#121212", "#121212", "#2440d6", "#2440d6", "#e42233", "#64bb4e", "#9b4fd0", "#121212", "#2e8a3b", "#e42233"]}, "legend": null}}},
  {"data": {"name": "dens_nums"}, "mark": {"type": "text", "font": "DejaVu Sans", "fontWeight": "bold", "fontSize": 44, "align": "center", "baseline": "middle"},
   "encoding": {
    "x": {"field": "x", "type": "quantitative", "scale": {"domain": [1.4, 3.0], "nice": false, "zero": false}, "axis": null},
    "y": {"field": "depth", "type": "quantitative", "scale": {"domain": [-3000, -700], "nice": false, "zero": false}, "axis": null},
    "text": {"field": "label"}, "color": {"value": "#121212"}}},
  {"data": {"name": "dens_rot"}, "mark": {"type": "text", "font": "DejaVu Sans", "fontWeight": "bold", "fontSize": 44, "align": "center", "baseline": "middle", "angle": 270},
   "encoding": {
    "x": {"field": "x", "type": "quantitative", "scale": {"domain": [1.4, 3.0], "nice": false, "zero": false}, "axis": null},
    "y": {"field": "depth", "type": "quantitative", "scale": {"domain": [-3000, -700], "nice": false, "zero": false}, "axis": null},
    "text": {"field": "label"}, "color": {"value": "#121212"}}}
 ]},
{"title": {"text": "Saturation"}, "width": 810, "height": 1630,
 "resolve": {"axis": {"x": "independent", "y": "independent"}},
 "layer": [
  {"data": {"name": "sat"}, "mark": {"type": "line", "strokeWidth": 3, "strokeJoin": "round"},
   "encoding": {
    "x": {"field": "value", "type": "quantitative", "scale": {"domain": [0, 1], "nice": false, "zero": false}, "axis": {"orient": "bottom", "values": [0, 0.2, 0.4, 0.6, 0.8, 1.0], "format": ".1f", "title": "HC saturation"}},
    "y": {"field": "depth", "type": "quantitative", "scale": {"domain": [-3000, -700], "nice": false, "zero": false}, "axis": {"orient": "left", "values": [-700, -800, -900, -1000, -1100, -1200, -1300, -1400, -1500, -1600, -1700, -1800, -1900, -2000, -2100, -2200, -2300, -2400, -2500, -2600, -2700, -2800, -2900, -3000], "labelExpr": "'-' + abs(datum.value)", "title": "depth [m]"}},
    "color": {"field": "curve", "type": "nominal", "scale": {"domain": ["black", "black2", "blue", "blue2", "red", "green", "purple", "label_black", "label_green", "label_red"], "range": ["#121212", "#121212", "#2440d6", "#2440d6", "#e42233", "#64bb4e", "#9b4fd0", "#121212", "#2e8a3b", "#e42233"]}, "legend": null},
    "order": {"field": "depth", "sort": "descending"}}},
  {"data": {"name": "tops_bottom"}, "mark": {"type": "rule", "color": "#50555f", "strokeWidth": 2},
   "encoding": {
    "x": {"datum": 0, "type": "quantitative", "scale": {"domain": [0, 1], "nice": false, "zero": false}, "axis": {"orient": "top", "values": [0, 0.2, 0.4, 0.6, 0.8, 1.0], "labels": false, "title": null}},
    "x2": {"datum": 1},
    "y": {"field": "depth", "type": "quantitative", "scale": {"domain": [-3000, -700], "nice": false, "zero": false}, "axis": {"orient": "right", "values": [-700, -800, -900, -1000, -1100, -1200, -1300, -1400, -1500, -1600, -1700, -1800, -1900, -2000, -2100, -2200, -2300, -2400, -2500, -2600, -2700, -2800, -2900, -3000], "labels": false, "title": " ", "titlePadding": 14}}}},
  {"data": {"name": "tops_bottom"}, "mark": {"type": "rule", "opacity": 0},
   "encoding": {
    "x": {"datum": 0, "type": "quantitative", "scale": {"domain": [0, 1], "nice": false, "zero": false}, "axis": {"orient": "bottom", "values": [0.1, 0.3, 0.5, 0.7, 0.9], "labels": false, "tickSize": 12, "title": null}},
    "x2": {"datum": 1},
    "y": {"field": "depth", "type": "quantitative", "scale": {"domain": [-3000, -700], "nice": false, "zero": false}, "axis": {"orient": "left", "values": [-750, -850, -950, -1050, -1150, -1250, -1350, -1450, -1550, -1650, -1750, -1850, -1950, -2050, -2150, -2250, -2350, -2450, -2550, -2650, -2750, -2850, -2950], "labels": false, "tickSize": 12, "title": null}}}},
  {"data": {"name": "tops_bottom"}, "mark": {"type": "rule", "opacity": 0},
   "encoding": {
    "x": {"datum": 0, "type": "quantitative", "scale": {"domain": [0, 1], "nice": false, "zero": false}, "axis": {"orient": "top", "values": [0.1, 0.3, 0.5, 0.7, 0.9], "labels": false, "tickSize": 12, "title": null}},
    "x2": {"datum": 1},
    "y": {"field": "depth", "type": "quantitative", "scale": {"domain": [-3000, -700], "nice": false, "zero": false}, "axis": {"orient": "right", "values": [-750, -850, -950, -1050, -1150, -1250, -1350, -1450, -1550, -1650, -1750, -1850, -1950, -2050, -2150, -2250, -2350, -2450, -2550, -2650, -2750, -2850, -2950], "labels": false, "tickSize": 12, "title": null}}}}
 ]}
], "spacing": 317, "bounds": "flush"}
],
"spacing": 116, "center": true,
"config": {
 "view": {"stroke": "#101828", "strokeWidth": 3.5},
 "axis": {"domain": false, "grid": false, "ticks": true, "tickSize": 23, "tickWidth": 3, "tickColor": "#101828", "labelFont": "Liberation Sans", "labelFontSize": 52, "labelColor": "#15151f", "labelPadding": 18, "labelFlush": false, "labelOverlap": false, "titleFont": "Liberation Sans", "titleFontSize": 35, "titleFontWeight": "normal", "titleColor": "#15151f", "titlePadding": 20},
 "title": {"font": "Liberation Sans", "fontSize": 59, "fontWeight": "normal", "color": "#15151f", "offset": 93, "anchor": "middle", "baseline": "bottom"}
}
}
